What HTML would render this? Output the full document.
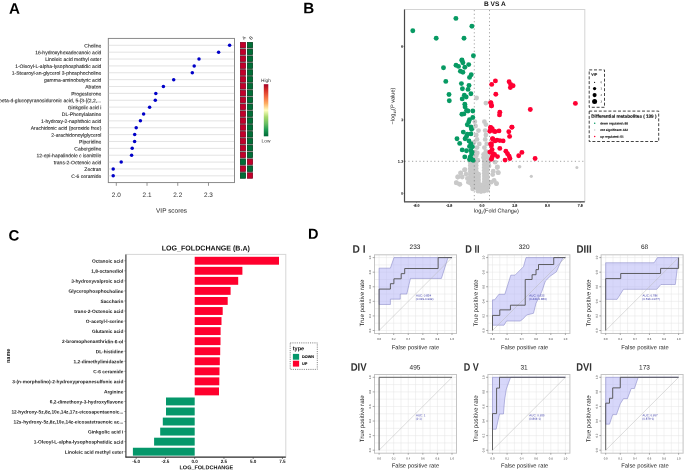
<!DOCTYPE html>
<html><head><meta charset="utf-8"><style>
html,body{margin:0;padding:0;background:#fff;}
body{width:685px;height:472px;overflow:hidden;}
svg{display:block;will-change:transform;text-rendering:geometricPrecision;font-family:"Liberation Sans", sans-serif;}
</style></head><body>
<svg width="685" height="472" viewBox="0 0 685 472">
<rect width="685" height="472" fill="#fff"/>
<text x="8.90" y="13.80" font-size="15.2" text-anchor="start" font-weight="bold" fill="#000"  transform="rotate(0.05 8.90 13.80)">A</text>
<text x="303.30" y="13.30" font-size="15.2" text-anchor="start" font-weight="bold" fill="#000"  transform="rotate(0.05 303.30 13.30)">B</text>
<text x="8.60" y="240.60" font-size="15" text-anchor="start" font-weight="bold" fill="#000"  transform="rotate(0.05 8.60 240.60)">C</text>
<text x="308.00" y="238.70" font-size="14.5" text-anchor="start" font-weight="bold" fill="#000"  transform="rotate(0.05 308.00 238.70)">D</text>
<rect x="108.3" y="38.4" width="126.2" height="144.2" fill="#fff" stroke="#7e7e7e" stroke-width="0.9"/>
<line x1="108.80" y1="45.30" x2="234.00" y2="45.30" stroke="#dcdcdc" stroke-width="0.8" />
<text x="101.30" y="47.40" font-size="5.0" text-anchor="end" font-weight="normal" fill="#222" stroke="#222" stroke-width="0.08" transform="rotate(0.05 101.30 47.40)">Choline</text>
<line x1="108.80" y1="52.17" x2="234.00" y2="52.17" stroke="#dcdcdc" stroke-width="0.8" />
<text x="101.30" y="54.27" font-size="5.0" text-anchor="end" font-weight="normal" fill="#222" stroke="#222" stroke-width="0.08" transform="rotate(0.05 101.30 54.27)">16-hydroxyhexadecanoic acid</text>
<line x1="108.80" y1="59.04" x2="234.00" y2="59.04" stroke="#dcdcdc" stroke-width="0.8" />
<text x="101.30" y="61.14" font-size="5.0" text-anchor="end" font-weight="normal" fill="#222" stroke="#222" stroke-width="0.08" transform="rotate(0.05 101.30 61.14)">Linoleic acid methyl ester</text>
<line x1="108.80" y1="65.91" x2="234.00" y2="65.91" stroke="#dcdcdc" stroke-width="0.8" />
<text x="101.30" y="68.01" font-size="5.0" text-anchor="end" font-weight="normal" fill="#222" stroke="#222" stroke-width="0.08" transform="rotate(0.05 101.30 68.01)">1-Oleoyl-L-alpha-lysophosphatidic acid</text>
<line x1="108.80" y1="72.78" x2="234.00" y2="72.78" stroke="#dcdcdc" stroke-width="0.8" />
<text x="101.30" y="74.88" font-size="5.0" text-anchor="end" font-weight="normal" fill="#222" stroke="#222" stroke-width="0.08" transform="rotate(0.05 101.30 74.88)">1-Stearoyl-sn-glycerol 3-phosphocholine</text>
<line x1="108.80" y1="79.65" x2="234.00" y2="79.65" stroke="#dcdcdc" stroke-width="0.8" />
<text x="101.30" y="81.75" font-size="5.0" text-anchor="end" font-weight="normal" fill="#222" stroke="#222" stroke-width="0.08" transform="rotate(0.05 101.30 81.75)">gamma-aminobutyric acid</text>
<line x1="108.80" y1="86.52" x2="234.00" y2="86.52" stroke="#dcdcdc" stroke-width="0.8" />
<text x="101.30" y="88.62" font-size="5.0" text-anchor="end" font-weight="normal" fill="#222" stroke="#222" stroke-width="0.08" transform="rotate(0.05 101.30 88.62)">Atraton</text>
<line x1="108.80" y1="93.39" x2="234.00" y2="93.39" stroke="#dcdcdc" stroke-width="0.8" />
<text x="101.30" y="95.49" font-size="5.0" text-anchor="end" font-weight="normal" fill="#222" stroke="#222" stroke-width="0.08" transform="rotate(0.05 101.30 95.49)">Progesterone</text>
<line x1="108.80" y1="100.26" x2="234.00" y2="100.26" stroke="#dcdcdc" stroke-width="0.8" />
<text x="101.30" y="102.36" font-size="5.0" text-anchor="end" font-weight="normal" fill="#222" stroke="#222" stroke-width="0.08" transform="rotate(0.05 101.30 102.36)">beta-d-glucopyranosiduronic acid, 5-[3-[(2,2,...</text>
<line x1="108.80" y1="107.13" x2="234.00" y2="107.13" stroke="#dcdcdc" stroke-width="0.8" />
<text x="101.30" y="109.23" font-size="5.0" text-anchor="end" font-weight="normal" fill="#222" stroke="#222" stroke-width="0.08" transform="rotate(0.05 101.30 109.23)">Ginkgolic acid i</text>
<line x1="108.80" y1="114.00" x2="234.00" y2="114.00" stroke="#dcdcdc" stroke-width="0.8" />
<text x="101.30" y="116.10" font-size="5.0" text-anchor="end" font-weight="normal" fill="#222" stroke="#222" stroke-width="0.08" transform="rotate(0.05 101.30 116.10)">DL-Phenylalanine</text>
<line x1="108.80" y1="120.87" x2="234.00" y2="120.87" stroke="#dcdcdc" stroke-width="0.8" />
<text x="101.30" y="122.97" font-size="5.0" text-anchor="end" font-weight="normal" fill="#222" stroke="#222" stroke-width="0.08" transform="rotate(0.05 101.30 122.97)">1-hydroxy-2-naphthoic acid</text>
<line x1="108.80" y1="127.74" x2="234.00" y2="127.74" stroke="#dcdcdc" stroke-width="0.8" />
<text x="101.30" y="129.84" font-size="5.0" text-anchor="end" font-weight="normal" fill="#222" stroke="#222" stroke-width="0.08" transform="rotate(0.05 101.30 129.84)">Arachidonic acid (peroxide free)</text>
<line x1="108.80" y1="134.61" x2="234.00" y2="134.61" stroke="#dcdcdc" stroke-width="0.8" />
<text x="101.30" y="136.71" font-size="5.0" text-anchor="end" font-weight="normal" fill="#222" stroke="#222" stroke-width="0.08" transform="rotate(0.05 101.30 136.71)">2-arachidonoylglycerol</text>
<line x1="108.80" y1="141.48" x2="234.00" y2="141.48" stroke="#dcdcdc" stroke-width="0.8" />
<text x="101.30" y="143.58" font-size="5.0" text-anchor="end" font-weight="normal" fill="#222" stroke="#222" stroke-width="0.08" transform="rotate(0.05 101.30 143.58)">Piperidine</text>
<line x1="108.80" y1="148.35" x2="234.00" y2="148.35" stroke="#dcdcdc" stroke-width="0.8" />
<text x="101.30" y="150.45" font-size="5.0" text-anchor="end" font-weight="normal" fill="#222" stroke="#222" stroke-width="0.08" transform="rotate(0.05 101.30 150.45)">Cabergoline</text>
<line x1="108.80" y1="155.22" x2="234.00" y2="155.22" stroke="#dcdcdc" stroke-width="0.8" />
<text x="101.30" y="157.32" font-size="5.0" text-anchor="end" font-weight="normal" fill="#222" stroke="#222" stroke-width="0.08" transform="rotate(0.05 101.30 157.32)">12-epi-hapalindole c isonitrile</text>
<line x1="108.80" y1="162.09" x2="234.00" y2="162.09" stroke="#dcdcdc" stroke-width="0.8" />
<text x="101.30" y="164.19" font-size="5.0" text-anchor="end" font-weight="normal" fill="#222" stroke="#222" stroke-width="0.08" transform="rotate(0.05 101.30 164.19)">trans-2-Octenoic acid</text>
<line x1="108.80" y1="168.96" x2="234.00" y2="168.96" stroke="#dcdcdc" stroke-width="0.8" />
<text x="101.30" y="171.06" font-size="5.0" text-anchor="end" font-weight="normal" fill="#222" stroke="#222" stroke-width="0.08" transform="rotate(0.05 101.30 171.06)">Zectran</text>
<line x1="108.80" y1="175.83" x2="234.00" y2="175.83" stroke="#dcdcdc" stroke-width="0.8" />
<text x="101.30" y="177.93" font-size="5.0" text-anchor="end" font-weight="normal" fill="#222" stroke="#222" stroke-width="0.08" transform="rotate(0.05 101.30 177.93)">C-6 ceramide</text>
<circle cx="229.60" cy="45.30" r="1.75" fill="#0000c8"/>
<circle cx="218.60" cy="52.17" r="1.75" fill="#0000c8"/>
<circle cx="199.00" cy="59.04" r="1.75" fill="#0000c8"/>
<circle cx="194.20" cy="65.91" r="1.75" fill="#0000c8"/>
<circle cx="192.30" cy="72.78" r="1.75" fill="#0000c8"/>
<circle cx="173.70" cy="79.65" r="1.75" fill="#0000c8"/>
<circle cx="163.40" cy="86.52" r="1.75" fill="#0000c8"/>
<circle cx="155.80" cy="93.39" r="1.75" fill="#0000c8"/>
<circle cx="155.30" cy="100.26" r="1.75" fill="#0000c8"/>
<circle cx="149.60" cy="107.13" r="1.75" fill="#0000c8"/>
<circle cx="143.60" cy="114.00" r="1.75" fill="#0000c8"/>
<circle cx="140.40" cy="120.87" r="1.75" fill="#0000c8"/>
<circle cx="136.20" cy="127.74" r="1.75" fill="#0000c8"/>
<circle cx="134.70" cy="134.61" r="1.75" fill="#0000c8"/>
<circle cx="134.60" cy="141.48" r="1.75" fill="#0000c8"/>
<circle cx="132.20" cy="148.35" r="1.75" fill="#0000c8"/>
<circle cx="131.60" cy="155.22" r="1.75" fill="#0000c8"/>
<circle cx="121.20" cy="162.09" r="1.75" fill="#0000c8"/>
<circle cx="113.20" cy="168.96" r="1.75" fill="#0000c8"/>
<circle cx="113.20" cy="175.83" r="1.75" fill="#0000c8"/>
<line x1="116.30" y1="182.60" x2="116.30" y2="185.80" stroke="#777" stroke-width="0.8" />
<text x="116.30" y="196.90" font-size="6.4" text-anchor="middle" font-weight="normal" fill="#333"  transform="rotate(0.05 116.30 196.90)">2.0</text>
<line x1="147.03" y1="182.60" x2="147.03" y2="185.80" stroke="#777" stroke-width="0.8" />
<text x="147.03" y="196.90" font-size="6.4" text-anchor="middle" font-weight="normal" fill="#333"  transform="rotate(0.05 147.03 196.90)">2.1</text>
<line x1="177.76" y1="182.60" x2="177.76" y2="185.80" stroke="#777" stroke-width="0.8" />
<text x="177.76" y="196.90" font-size="6.4" text-anchor="middle" font-weight="normal" fill="#333"  transform="rotate(0.05 177.76 196.90)">2.2</text>
<line x1="208.49" y1="182.60" x2="208.49" y2="185.80" stroke="#777" stroke-width="0.8" />
<text x="208.49" y="196.90" font-size="6.4" text-anchor="middle" font-weight="normal" fill="#333"  transform="rotate(0.05 208.49 196.90)">2.3</text>
<text x="171.60" y="212.70" font-size="6.45" text-anchor="middle" font-weight="normal" fill="#222"  transform="rotate(0.05 171.60 212.70)">VIP scores</text>
<rect x="240.00" y="42.10" width="5.90" height="136.43" fill="#8e8e8e" />
<rect x="247.05" y="42.10" width="5.90" height="136.43" fill="#8e8e8e" />
<rect x="240.30" y="42.40" width="5.30" height="5.30" fill="#c2002b" stroke="#8c0020" stroke-width="0.6"/>
<rect x="247.35" y="42.40" width="5.30" height="5.30" fill="#006e37" stroke="#00471f" stroke-width="0.6"/>
<rect x="240.30" y="49.27" width="5.30" height="5.30" fill="#c2002b" stroke="#8c0020" stroke-width="0.6"/>
<rect x="247.35" y="49.27" width="5.30" height="5.30" fill="#006e37" stroke="#00471f" stroke-width="0.6"/>
<rect x="240.30" y="56.14" width="5.30" height="5.30" fill="#c2002b" stroke="#8c0020" stroke-width="0.6"/>
<rect x="247.35" y="56.14" width="5.30" height="5.30" fill="#006e37" stroke="#00471f" stroke-width="0.6"/>
<rect x="240.30" y="63.01" width="5.30" height="5.30" fill="#c2002b" stroke="#8c0020" stroke-width="0.6"/>
<rect x="247.35" y="63.01" width="5.30" height="5.30" fill="#006e37" stroke="#00471f" stroke-width="0.6"/>
<rect x="240.30" y="69.88" width="5.30" height="5.30" fill="#c2002b" stroke="#8c0020" stroke-width="0.6"/>
<rect x="247.35" y="69.88" width="5.30" height="5.30" fill="#006e37" stroke="#00471f" stroke-width="0.6"/>
<rect x="240.30" y="76.75" width="5.30" height="5.30" fill="#c2002b" stroke="#8c0020" stroke-width="0.6"/>
<rect x="247.35" y="76.75" width="5.30" height="5.30" fill="#006e37" stroke="#00471f" stroke-width="0.6"/>
<rect x="240.30" y="83.62" width="5.30" height="5.30" fill="#c2002b" stroke="#8c0020" stroke-width="0.6"/>
<rect x="247.35" y="83.62" width="5.30" height="5.30" fill="#006e37" stroke="#00471f" stroke-width="0.6"/>
<rect x="240.30" y="90.49" width="5.30" height="5.30" fill="#c2002b" stroke="#8c0020" stroke-width="0.6"/>
<rect x="247.35" y="90.49" width="5.30" height="5.30" fill="#006e37" stroke="#00471f" stroke-width="0.6"/>
<rect x="240.30" y="97.36" width="5.30" height="5.30" fill="#c2002b" stroke="#8c0020" stroke-width="0.6"/>
<rect x="247.35" y="97.36" width="5.30" height="5.30" fill="#006e37" stroke="#00471f" stroke-width="0.6"/>
<rect x="240.30" y="104.23" width="5.30" height="5.30" fill="#c2002b" stroke="#8c0020" stroke-width="0.6"/>
<rect x="247.35" y="104.23" width="5.30" height="5.30" fill="#006e37" stroke="#00471f" stroke-width="0.6"/>
<rect x="240.30" y="111.10" width="5.30" height="5.30" fill="#c2002b" stroke="#8c0020" stroke-width="0.6"/>
<rect x="247.35" y="111.10" width="5.30" height="5.30" fill="#006e37" stroke="#00471f" stroke-width="0.6"/>
<rect x="240.30" y="117.97" width="5.30" height="5.30" fill="#c2002b" stroke="#8c0020" stroke-width="0.6"/>
<rect x="247.35" y="117.97" width="5.30" height="5.30" fill="#006e37" stroke="#00471f" stroke-width="0.6"/>
<rect x="240.30" y="124.84" width="5.30" height="5.30" fill="#c2002b" stroke="#8c0020" stroke-width="0.6"/>
<rect x="247.35" y="124.84" width="5.30" height="5.30" fill="#006e37" stroke="#00471f" stroke-width="0.6"/>
<rect x="240.30" y="131.71" width="5.30" height="5.30" fill="#c2002b" stroke="#8c0020" stroke-width="0.6"/>
<rect x="247.35" y="131.71" width="5.30" height="5.30" fill="#006e37" stroke="#00471f" stroke-width="0.6"/>
<rect x="240.30" y="138.58" width="5.30" height="5.30" fill="#c2002b" stroke="#8c0020" stroke-width="0.6"/>
<rect x="247.35" y="138.58" width="5.30" height="5.30" fill="#006e37" stroke="#00471f" stroke-width="0.6"/>
<rect x="240.30" y="145.45" width="5.30" height="5.30" fill="#c2002b" stroke="#8c0020" stroke-width="0.6"/>
<rect x="247.35" y="145.45" width="5.30" height="5.30" fill="#006e37" stroke="#00471f" stroke-width="0.6"/>
<rect x="240.30" y="152.32" width="5.30" height="5.30" fill="#c2002b" stroke="#8c0020" stroke-width="0.6"/>
<rect x="247.35" y="152.32" width="5.30" height="5.30" fill="#006e37" stroke="#00471f" stroke-width="0.6"/>
<rect x="240.30" y="159.19" width="5.30" height="5.30" fill="#006e37" stroke="#00471f" stroke-width="0.6"/>
<rect x="247.35" y="159.19" width="5.30" height="5.30" fill="#c2002b" stroke="#8c0020" stroke-width="0.6"/>
<rect x="240.30" y="166.06" width="5.30" height="5.30" fill="#c2002b" stroke="#8c0020" stroke-width="0.6"/>
<rect x="247.35" y="166.06" width="5.30" height="5.30" fill="#006e37" stroke="#00471f" stroke-width="0.6"/>
<rect x="240.30" y="172.93" width="5.30" height="5.30" fill="#006e37" stroke="#00471f" stroke-width="0.6"/>
<rect x="247.35" y="172.93" width="5.30" height="5.30" fill="#c2002b" stroke="#8c0020" stroke-width="0.6"/>
<text x="243.90" y="39.50" font-size="4.8" text-anchor="middle" font-weight="normal" fill="#333" transform="rotate(0.05 243.90 39.50) rotate(-45 243.9 37.8)">A</text>
<text x="250.90" y="39.50" font-size="4.8" text-anchor="middle" font-weight="normal" fill="#333" transform="rotate(0.05 250.90 39.50) rotate(-45 250.9 37.8)">B</text>
<defs><linearGradient id="cb" x1="0" y1="0" x2="0" y2="1"><stop offset="0" stop-color="#a50026"/><stop offset="0.12" stop-color="#d73027"/><stop offset="0.25" stop-color="#f46d43"/><stop offset="0.37" stop-color="#fdae61"/><stop offset="0.5" stop-color="#ffffbf"/><stop offset="0.63" stop-color="#a6d96a"/><stop offset="0.76" stop-color="#66bd63"/><stop offset="0.88" stop-color="#1a9850"/><stop offset="1" stop-color="#006837"/></linearGradient></defs>
<rect x="263.80" y="84.20" width="4.50" height="52.10" fill="url(#cb)" />
<text x="265.90" y="82.10" font-size="4.8" text-anchor="middle" font-weight="normal" fill="#333"  transform="rotate(0.05 265.90 82.10)">High</text>
<text x="266.00" y="142.60" font-size="4.8" text-anchor="middle" font-weight="normal" fill="#333"  transform="rotate(0.05 266.00 142.60)">Low</text>
<rect x="404.6" y="9.5" width="180.19999999999993" height="192.0" fill="#fff" stroke="#d4d4d4" stroke-width="1"/>
<text x="494.80" y="6.10" font-size="6.6" text-anchor="middle" font-weight="bold" fill="#111"  transform="rotate(0.05 494.80 6.10)">B VS A</text>
<circle cx="476.60" cy="98.00" r="2.4" fill="#c9c9c9"/>
<circle cx="485.90" cy="103.10" r="2.4" fill="#c9c9c9"/>
<circle cx="474.80" cy="121.70" r="2.4" fill="#c9c9c9"/>
<circle cx="475.60" cy="126.10" r="2.4" fill="#c9c9c9"/>
<circle cx="478.50" cy="130.60" r="2.4" fill="#c9c9c9"/>
<circle cx="476.30" cy="135.00" r="2.4" fill="#c9c9c9"/>
<circle cx="477.00" cy="139.40" r="2.4" fill="#c9c9c9"/>
<circle cx="474.10" cy="142.40" r="2.4" fill="#c9c9c9"/>
<circle cx="479.30" cy="143.90" r="2.4" fill="#c9c9c9"/>
<circle cx="477.00" cy="147.60" r="2.4" fill="#c9c9c9"/>
<circle cx="474.80" cy="152.00" r="2.4" fill="#c9c9c9"/>
<circle cx="476.30" cy="155.70" r="2.4" fill="#c9c9c9"/>
<circle cx="474.10" cy="158.70" r="2.4" fill="#c9c9c9"/>
<circle cx="477.80" cy="160.20" r="2.4" fill="#c9c9c9"/>
<circle cx="484.40" cy="121.70" r="2.4" fill="#c9c9c9"/>
<circle cx="485.90" cy="124.60" r="2.4" fill="#c9c9c9"/>
<circle cx="485.20" cy="130.60" r="2.4" fill="#c9c9c9"/>
<circle cx="485.90" cy="135.00" r="2.4" fill="#c9c9c9"/>
<circle cx="485.20" cy="139.40" r="2.4" fill="#c9c9c9"/>
<circle cx="486.70" cy="143.90" r="2.4" fill="#c9c9c9"/>
<circle cx="484.40" cy="147.60" r="2.4" fill="#c9c9c9"/>
<circle cx="485.90" cy="151.30" r="2.4" fill="#c9c9c9"/>
<circle cx="483.70" cy="154.30" r="2.4" fill="#c9c9c9"/>
<circle cx="486.70" cy="157.20" r="2.4" fill="#c9c9c9"/>
<circle cx="484.40" cy="160.20" r="2.4" fill="#c9c9c9"/>
<circle cx="464.50" cy="169.80" r="2.4" fill="#c9c9c9"/>
<circle cx="460.70" cy="172.90" r="2.4" fill="#c9c9c9"/>
<circle cx="466.00" cy="174.10" r="2.4" fill="#c9c9c9"/>
<circle cx="457.90" cy="177.00" r="2.4" fill="#c9c9c9"/>
<circle cx="462.20" cy="177.00" r="2.4" fill="#c9c9c9"/>
<circle cx="467.40" cy="178.40" r="2.4" fill="#c9c9c9"/>
<circle cx="456.40" cy="182.70" r="2.4" fill="#c9c9c9"/>
<circle cx="459.30" cy="184.10" r="2.4" fill="#c9c9c9"/>
<circle cx="468.40" cy="182.20" r="2.4" fill="#c9c9c9"/>
<circle cx="472.20" cy="185.50" r="2.4" fill="#c9c9c9"/>
<circle cx="472.70" cy="188.90" r="2.4" fill="#c9c9c9"/>
<circle cx="495.10" cy="162.20" r="2.4" fill="#c9c9c9"/>
<circle cx="497.50" cy="166.90" r="2.4" fill="#c9c9c9"/>
<circle cx="498.40" cy="172.70" r="2.4" fill="#c9c9c9"/>
<circle cx="493.20" cy="171.20" r="2.4" fill="#c9c9c9"/>
<circle cx="492.70" cy="174.60" r="2.4" fill="#c9c9c9"/>
<circle cx="494.10" cy="180.30" r="2.4" fill="#c9c9c9"/>
<circle cx="496.50" cy="183.60" r="2.4" fill="#c9c9c9"/>
<circle cx="491.30" cy="182.20" r="2.4" fill="#c9c9c9"/>
<circle cx="488.40" cy="185.50" r="2.4" fill="#c9c9c9"/>
<circle cx="457.70" cy="177.00" r="2.4" fill="#c9c9c9"/>
<circle cx="456.30" cy="182.80" r="2.4" fill="#c9c9c9"/>
<circle cx="459.90" cy="184.30" r="2.4" fill="#c9c9c9"/>
<circle cx="460.70" cy="173.10" r="2.4" fill="#c9c9c9"/>
<circle cx="465.00" cy="169.70" r="2.4" fill="#c9c9c9"/>
<circle cx="496.40" cy="183.60" r="2.4" fill="#c9c9c9"/>
<circle cx="497.90" cy="172.60" r="2.4" fill="#c9c9c9"/>
<circle cx="497.20" cy="167.50" r="2.4" fill="#c9c9c9"/>
<circle cx="470.30" cy="162.60" r="2.4" fill="#c9c9c9"/>
<circle cx="473.20" cy="162.60" r="2.4" fill="#c9c9c9"/>
<circle cx="476.20" cy="162.60" r="2.4" fill="#c9c9c9"/>
<circle cx="470.30" cy="165.50" r="2.4" fill="#c9c9c9"/>
<circle cx="473.20" cy="165.50" r="2.4" fill="#c9c9c9"/>
<circle cx="476.20" cy="165.50" r="2.4" fill="#c9c9c9"/>
<circle cx="470.30" cy="168.40" r="2.4" fill="#c9c9c9"/>
<circle cx="473.20" cy="168.40" r="2.4" fill="#c9c9c9"/>
<circle cx="476.20" cy="168.40" r="2.4" fill="#c9c9c9"/>
<circle cx="470.30" cy="171.30" r="2.4" fill="#c9c9c9"/>
<circle cx="473.20" cy="171.30" r="2.4" fill="#c9c9c9"/>
<circle cx="476.20" cy="171.30" r="2.4" fill="#c9c9c9"/>
<circle cx="470.30" cy="174.20" r="2.4" fill="#c9c9c9"/>
<circle cx="473.20" cy="174.20" r="2.4" fill="#c9c9c9"/>
<circle cx="476.20" cy="174.20" r="2.4" fill="#c9c9c9"/>
<circle cx="478.60" cy="174.20" r="2.4" fill="#c9c9c9"/>
<circle cx="470.30" cy="177.10" r="2.4" fill="#c9c9c9"/>
<circle cx="473.20" cy="177.10" r="2.4" fill="#c9c9c9"/>
<circle cx="476.20" cy="177.10" r="2.4" fill="#c9c9c9"/>
<circle cx="478.60" cy="177.10" r="2.4" fill="#c9c9c9"/>
<circle cx="470.30" cy="180.00" r="2.4" fill="#c9c9c9"/>
<circle cx="473.20" cy="180.00" r="2.4" fill="#c9c9c9"/>
<circle cx="476.20" cy="180.00" r="2.4" fill="#c9c9c9"/>
<circle cx="478.60" cy="180.00" r="2.4" fill="#c9c9c9"/>
<circle cx="470.30" cy="182.90" r="2.4" fill="#c9c9c9"/>
<circle cx="473.20" cy="182.90" r="2.4" fill="#c9c9c9"/>
<circle cx="476.20" cy="182.90" r="2.4" fill="#c9c9c9"/>
<circle cx="478.60" cy="182.90" r="2.4" fill="#c9c9c9"/>
<circle cx="484.30" cy="161.80" r="2.4" fill="#c9c9c9"/>
<circle cx="487.20" cy="161.80" r="2.4" fill="#c9c9c9"/>
<circle cx="484.30" cy="164.65" r="2.4" fill="#c9c9c9"/>
<circle cx="487.20" cy="164.65" r="2.4" fill="#c9c9c9"/>
<circle cx="484.30" cy="167.50" r="2.4" fill="#c9c9c9"/>
<circle cx="487.20" cy="167.50" r="2.4" fill="#c9c9c9"/>
<circle cx="484.30" cy="170.35" r="2.4" fill="#c9c9c9"/>
<circle cx="487.20" cy="170.35" r="2.4" fill="#c9c9c9"/>
<circle cx="484.30" cy="173.20" r="2.4" fill="#c9c9c9"/>
<circle cx="487.20" cy="173.20" r="2.4" fill="#c9c9c9"/>
<circle cx="484.30" cy="176.05" r="2.4" fill="#c9c9c9"/>
<circle cx="487.20" cy="176.05" r="2.4" fill="#c9c9c9"/>
<circle cx="484.30" cy="178.90" r="2.4" fill="#c9c9c9"/>
<circle cx="487.20" cy="178.90" r="2.4" fill="#c9c9c9"/>
<circle cx="484.30" cy="181.75" r="2.4" fill="#c9c9c9"/>
<circle cx="487.20" cy="181.75" r="2.4" fill="#c9c9c9"/>
<circle cx="484.30" cy="184.60" r="2.4" fill="#c9c9c9"/>
<circle cx="487.20" cy="184.60" r="2.4" fill="#c9c9c9"/>
<circle cx="484.30" cy="187.45" r="2.4" fill="#c9c9c9"/>
<circle cx="487.20" cy="187.45" r="2.4" fill="#c9c9c9"/>
<circle cx="484.30" cy="190.30" r="2.4" fill="#c9c9c9"/>
<circle cx="487.20" cy="190.30" r="2.4" fill="#c9c9c9"/>
<circle cx="474.00" cy="185.00" r="2.4" fill="#c9c9c9"/>
<circle cx="477.00" cy="185.00" r="2.4" fill="#c9c9c9"/>
<circle cx="480.00" cy="185.50" r="2.4" fill="#c9c9c9"/>
<circle cx="482.00" cy="185.00" r="2.4" fill="#c9c9c9"/>
<circle cx="473.50" cy="188.00" r="2.4" fill="#c9c9c9"/>
<circle cx="476.50" cy="188.30" r="2.4" fill="#c9c9c9"/>
<circle cx="479.50" cy="188.80" r="2.4" fill="#c9c9c9"/>
<circle cx="482.50" cy="188.50" r="2.4" fill="#c9c9c9"/>
<circle cx="485.50" cy="188.30" r="2.4" fill="#c9c9c9"/>
<circle cx="478.00" cy="191.20" r="2.4" fill="#c9c9c9"/>
<circle cx="481.00" cy="191.50" r="2.4" fill="#c9c9c9"/>
<circle cx="484.00" cy="191.00" r="2.4" fill="#c9c9c9"/>
<circle cx="488.50" cy="162.50" r="2.4" fill="#c9c9c9"/>
<circle cx="489.00" cy="166.00" r="2.4" fill="#c9c9c9"/>
<circle cx="471.50" cy="159.50" r="2.4" fill="#c9c9c9"/>
<circle cx="475.00" cy="157.60" r="2.4" fill="#c9c9c9"/>
<circle cx="477.30" cy="153.00" r="2.4" fill="#c9c9c9"/>
<circle cx="486.50" cy="155.00" r="2.4" fill="#c9c9c9"/>
<circle cx="489.20" cy="158.70" r="2.4" fill="#c9c9c9"/>
<circle cx="483.50" cy="157.50" r="2.4" fill="#c9c9c9"/>
<circle cx="519.60" cy="166.80" r="1.8" fill="#c9c9c9"/>
<circle cx="576.90" cy="167.60" r="1.5" fill="#c9c9c9"/>
<circle cx="531.30" cy="176.30" r="1.6" fill="#c9c9c9"/>
<line x1="474.30" y1="10.00" x2="474.30" y2="201.50" stroke="#666" stroke-width="0.6" stroke-dasharray="1.2 2.5"/>
<line x1="489.50" y1="10.00" x2="489.50" y2="201.50" stroke="#666" stroke-width="0.6" stroke-dasharray="1.2 2.5"/>
<line x1="404.60" y1="161.30" x2="584.80" y2="161.30" stroke="#666" stroke-width="0.6" stroke-dasharray="1.2 2.5"/>
<circle cx="455.90" cy="18.40" r="2.45" fill="#079a63"/>
<circle cx="471.90" cy="26.30" r="2.45" fill="#079a63"/>
<circle cx="412.80" cy="30.70" r="2.45" fill="#079a63"/>
<circle cx="436.20" cy="38.20" r="2.45" fill="#079a63"/>
<circle cx="464.00" cy="38.20" r="2.45" fill="#079a63"/>
<circle cx="473.40" cy="55.80" r="2.45" fill="#079a63"/>
<circle cx="461.90" cy="59.90" r="2.45" fill="#079a63"/>
<circle cx="461.90" cy="60.50" r="2.45" fill="#079a63"/>
<circle cx="462.90" cy="62.80" r="2.45" fill="#079a63"/>
<circle cx="468.70" cy="64.60" r="2.45" fill="#079a63"/>
<circle cx="456.00" cy="65.30" r="2.45" fill="#079a63"/>
<circle cx="458.50" cy="66.40" r="2.45" fill="#079a63"/>
<circle cx="464.80" cy="67.20" r="2.45" fill="#079a63"/>
<circle cx="443.50" cy="67.80" r="2.45" fill="#079a63"/>
<circle cx="460.40" cy="71.20" r="2.45" fill="#079a63"/>
<circle cx="462.90" cy="72.20" r="2.45" fill="#079a63"/>
<circle cx="471.20" cy="74.80" r="2.45" fill="#079a63"/>
<circle cx="469.50" cy="77.40" r="2.45" fill="#079a63"/>
<circle cx="445.80" cy="81.40" r="2.45" fill="#079a63"/>
<circle cx="461.40" cy="83.60" r="2.45" fill="#079a63"/>
<circle cx="469.00" cy="85.50" r="2.45" fill="#079a63"/>
<circle cx="462.40" cy="88.70" r="2.45" fill="#079a63"/>
<circle cx="468.00" cy="89.40" r="2.45" fill="#079a63"/>
<circle cx="470.90" cy="93.80" r="2.45" fill="#079a63"/>
<circle cx="449.00" cy="94.50" r="2.45" fill="#079a63"/>
<circle cx="464.30" cy="95.30" r="2.45" fill="#079a63"/>
<circle cx="466.20" cy="97.00" r="2.45" fill="#079a63"/>
<circle cx="462.20" cy="98.90" r="2.45" fill="#079a63"/>
<circle cx="449.30" cy="100.80" r="2.45" fill="#079a63"/>
<circle cx="464.80" cy="104.30" r="2.45" fill="#079a63"/>
<circle cx="465.10" cy="106.90" r="2.45" fill="#079a63"/>
<circle cx="466.50" cy="110.50" r="2.45" fill="#079a63"/>
<circle cx="468.00" cy="111.00" r="2.45" fill="#079a63"/>
<circle cx="472.80" cy="111.00" r="2.45" fill="#079a63"/>
<circle cx="461.90" cy="114.30" r="2.45" fill="#079a63"/>
<circle cx="463.90" cy="113.90" r="2.45" fill="#079a63"/>
<circle cx="472.80" cy="117.50" r="2.45" fill="#079a63"/>
<circle cx="469.50" cy="119.70" r="2.45" fill="#079a63"/>
<circle cx="468.70" cy="121.90" r="2.45" fill="#079a63"/>
<circle cx="467.30" cy="124.80" r="2.45" fill="#079a63"/>
<circle cx="470.90" cy="127.00" r="2.45" fill="#079a63"/>
<circle cx="471.60" cy="129.20" r="2.45" fill="#079a63"/>
<circle cx="463.30" cy="132.10" r="2.45" fill="#079a63"/>
<circle cx="467.30" cy="134.30" r="2.45" fill="#079a63"/>
<circle cx="470.90" cy="133.90" r="2.45" fill="#079a63"/>
<circle cx="457.00" cy="138.70" r="2.45" fill="#079a63"/>
<circle cx="465.10" cy="138.70" r="2.45" fill="#079a63"/>
<circle cx="466.50" cy="136.50" r="2.45" fill="#079a63"/>
<circle cx="459.70" cy="143.40" r="2.45" fill="#079a63"/>
<circle cx="470.90" cy="143.80" r="2.45" fill="#079a63"/>
<circle cx="469.50" cy="146.40" r="2.45" fill="#079a63"/>
<circle cx="472.40" cy="146.70" r="2.45" fill="#079a63"/>
<circle cx="462.20" cy="149.90" r="2.45" fill="#079a63"/>
<circle cx="466.50" cy="150.80" r="2.45" fill="#079a63"/>
<circle cx="470.90" cy="150.40" r="2.45" fill="#079a63"/>
<circle cx="471.60" cy="154.00" r="2.45" fill="#079a63"/>
<circle cx="464.80" cy="156.90" r="2.45" fill="#079a63"/>
<circle cx="470.20" cy="156.90" r="2.45" fill="#079a63"/>
<circle cx="471.00" cy="158.50" r="2.45" fill="#079a63"/>
<circle cx="473.00" cy="160.20" r="2.45" fill="#079a63"/>
<circle cx="469.50" cy="159.50" r="2.45" fill="#079a63"/>
<circle cx="472.00" cy="152.50" r="2.45" fill="#079a63"/>
<circle cx="469.00" cy="141.00" r="2.45" fill="#079a63"/>
<circle cx="495.40" cy="80.90" r="2.45" fill="#ff0033"/>
<circle cx="491.70" cy="84.40" r="2.45" fill="#ff0033"/>
<circle cx="509.10" cy="81.70" r="2.45" fill="#ff0033"/>
<circle cx="510.70" cy="84.40" r="2.45" fill="#ff0033"/>
<circle cx="513.10" cy="85.70" r="2.45" fill="#ff0033"/>
<circle cx="510.40" cy="87.60" r="2.45" fill="#ff0033"/>
<circle cx="495.80" cy="94.20" r="2.45" fill="#ff0033"/>
<circle cx="490.60" cy="102.60" r="2.45" fill="#ff0033"/>
<circle cx="491.40" cy="105.80" r="2.45" fill="#ff0033"/>
<circle cx="575.40" cy="103.40" r="2.45" fill="#ff0033"/>
<circle cx="530.30" cy="109.50" r="2.45" fill="#ff0033"/>
<circle cx="499.80" cy="112.20" r="2.45" fill="#ff0033"/>
<circle cx="499.50" cy="114.90" r="2.45" fill="#ff0033"/>
<circle cx="511.80" cy="127.10" r="2.45" fill="#ff0033"/>
<circle cx="490.60" cy="127.40" r="2.45" fill="#ff0033"/>
<circle cx="491.00" cy="102.90" r="2.45" fill="#ff0033"/>
<circle cx="491.60" cy="105.80" r="2.45" fill="#ff0033"/>
<circle cx="490.60" cy="127.70" r="2.45" fill="#ff0033"/>
<circle cx="492.00" cy="129.90" r="2.45" fill="#ff0033"/>
<circle cx="494.30" cy="131.40" r="2.45" fill="#ff0033"/>
<circle cx="492.50" cy="138.70" r="2.45" fill="#ff0033"/>
<circle cx="491.40" cy="143.80" r="2.45" fill="#ff0033"/>
<circle cx="492.10" cy="149.60" r="2.45" fill="#ff0033"/>
<circle cx="492.80" cy="154.00" r="2.45" fill="#ff0033"/>
<circle cx="512.00" cy="127.20" r="2.45" fill="#ff0033"/>
<circle cx="492.20" cy="128.80" r="2.45" fill="#ff0033"/>
<circle cx="489.80" cy="131.20" r="2.45" fill="#ff0033"/>
<circle cx="495.40" cy="131.60" r="2.45" fill="#ff0033"/>
<circle cx="499.00" cy="130.90" r="2.45" fill="#ff0033"/>
<circle cx="508.80" cy="131.70" r="2.45" fill="#ff0033"/>
<circle cx="509.60" cy="136.40" r="2.45" fill="#ff0033"/>
<circle cx="492.70" cy="139.00" r="2.45" fill="#ff0033"/>
<circle cx="495.00" cy="140.90" r="2.45" fill="#ff0033"/>
<circle cx="497.00" cy="140.10" r="2.45" fill="#ff0033"/>
<circle cx="499.80" cy="140.60" r="2.45" fill="#ff0033"/>
<circle cx="503.10" cy="140.90" r="2.45" fill="#ff0033"/>
<circle cx="490.60" cy="144.10" r="2.45" fill="#ff0033"/>
<circle cx="491.40" cy="145.70" r="2.45" fill="#ff0033"/>
<circle cx="499.80" cy="148.40" r="2.45" fill="#ff0033"/>
<circle cx="505.90" cy="151.30" r="2.45" fill="#ff0033"/>
<circle cx="521.90" cy="152.40" r="2.45" fill="#ff0033"/>
<circle cx="518.70" cy="155.70" r="2.45" fill="#ff0033"/>
<circle cx="507.50" cy="153.70" r="2.45" fill="#ff0033"/>
<circle cx="509.10" cy="156.10" r="2.45" fill="#ff0033"/>
<circle cx="509.90" cy="158.50" r="2.45" fill="#ff0033"/>
<circle cx="505.10" cy="160.10" r="2.45" fill="#ff0033"/>
<circle cx="535.10" cy="158.50" r="2.45" fill="#ff0033"/>
<circle cx="493.00" cy="153.70" r="2.45" fill="#ff0033"/>
<circle cx="494.60" cy="154.50" r="2.45" fill="#ff0033"/>
<circle cx="497.50" cy="156.60" r="2.45" fill="#ff0033"/>
<circle cx="492.20" cy="156.90" r="2.45" fill="#ff0033"/>
<circle cx="491.40" cy="159.30" r="2.45" fill="#ff0033"/>
<circle cx="489.80" cy="152.10" r="2.45" fill="#ff0033"/>
<line x1="404.50" y1="9.50" x2="404.50" y2="201.80" stroke="#4a4a4a" stroke-width="1.2" />
<line x1="404.00" y1="201.80" x2="584.80" y2="201.80" stroke="#4a4a4a" stroke-width="1.3" />
<line x1="403.40" y1="193.40" x2="404.60" y2="193.40" stroke="#333" stroke-width="0.5" />
<text x="403.10" y="194.80" font-size="3.9" text-anchor="end" font-weight="bold" fill="#222"  transform="rotate(0.05 403.10 194.80)">0</text>
<line x1="403.40" y1="119.90" x2="404.60" y2="119.90" stroke="#333" stroke-width="0.5" />
<text x="403.10" y="121.30" font-size="3.9" text-anchor="end" font-weight="bold" fill="#222"  transform="rotate(0.05 403.10 121.30)">3</text>
<line x1="403.40" y1="46.40" x2="404.60" y2="46.40" stroke="#333" stroke-width="0.5" />
<text x="403.10" y="47.80" font-size="3.9" text-anchor="end" font-weight="bold" fill="#222"  transform="rotate(0.05 403.10 47.80)">6</text>
<line x1="403.40" y1="161.30" x2="404.60" y2="161.30" stroke="#333" stroke-width="0.5" />
<text x="403.10" y="162.70" font-size="3.9" text-anchor="end" font-weight="bold" fill="#222"  transform="rotate(0.05 403.10 162.70)">1.3</text>
<line x1="416.50" y1="202.40" x2="416.50" y2="203.10" stroke="#444" stroke-width="0.6" />
<text x="416.50" y="206.70" font-size="3.6" text-anchor="middle" font-weight="bold" fill="#111" stroke="#111" stroke-width="0.1" transform="rotate(0.05 416.50 206.70)">-5.0</text>
<line x1="449.25" y1="202.40" x2="449.25" y2="203.10" stroke="#444" stroke-width="0.6" />
<text x="449.25" y="206.70" font-size="3.6" text-anchor="middle" font-weight="bold" fill="#111" stroke="#111" stroke-width="0.1" transform="rotate(0.05 449.25 206.70)">-2.5</text>
<line x1="482.00" y1="202.40" x2="482.00" y2="203.10" stroke="#444" stroke-width="0.6" />
<text x="482.00" y="206.70" font-size="3.6" text-anchor="middle" font-weight="bold" fill="#111" stroke="#111" stroke-width="0.1" transform="rotate(0.05 482.00 206.70)">0.0</text>
<line x1="514.75" y1="202.40" x2="514.75" y2="203.10" stroke="#444" stroke-width="0.6" />
<text x="514.75" y="206.70" font-size="3.6" text-anchor="middle" font-weight="bold" fill="#111" stroke="#111" stroke-width="0.1" transform="rotate(0.05 514.75 206.70)">2.5</text>
<line x1="547.50" y1="202.40" x2="547.50" y2="203.10" stroke="#444" stroke-width="0.6" />
<text x="547.50" y="206.70" font-size="3.6" text-anchor="middle" font-weight="bold" fill="#111" stroke="#111" stroke-width="0.1" transform="rotate(0.05 547.50 206.70)">5.0</text>
<line x1="580.25" y1="202.40" x2="580.25" y2="203.10" stroke="#444" stroke-width="0.6" />
<text x="580.25" y="206.70" font-size="3.6" text-anchor="middle" font-weight="bold" fill="#111" stroke="#111" stroke-width="0.1" transform="rotate(0.05 580.25 206.70)">7.5</text>
<text x="473.8" y="212.6" font-size="5.6" fill="#222" transform="rotate(0.05 473.8 212.6)">log<tspan font-size="3.4" dy="1.3">2</tspan><tspan dy="-1.3">(Fold Change)</tspan></text>
<text x="394.6" y="106" font-size="5.6" fill="#222" text-anchor="middle" transform="rotate(-89.95 394.6 106)">−log<tspan font-size="3.4" dy="1.3">10</tspan><tspan dy="-1.3">(P value)</tspan></text>
<rect x="589.2" y="69.9" width="15.3" height="37.4" fill="#fff" stroke="#222" stroke-width="0.85" stroke-dasharray="3 1.8"/>
<text x="591.20" y="75.80" font-size="3.7" text-anchor="start" font-weight="bold" fill="#111" stroke="#111" stroke-width="0.12" transform="rotate(0.05 591.20 75.80)">VIP</text>
<circle cx="594.60" cy="82.30" r="0.6" fill="#000"/>
<text x="600.60" y="83.30" font-size="2.9" text-anchor="start" font-weight="bold" fill="#555"  transform="rotate(0.05 600.60 83.30)">0</text>
<circle cx="594.60" cy="88.60" r="1.65" fill="#000"/>
<text x="600.60" y="89.60" font-size="2.9" text-anchor="start" font-weight="bold" fill="#555"  transform="rotate(0.05 600.60 89.60)">1</text>
<circle cx="594.60" cy="95.10" r="2.05" fill="#000"/>
<text x="600.60" y="96.10" font-size="2.9" text-anchor="start" font-weight="bold" fill="#555"  transform="rotate(0.05 600.60 96.10)">2</text>
<circle cx="594.60" cy="101.60" r="2.5" fill="#000"/>
<text x="600.60" y="102.60" font-size="2.9" text-anchor="start" font-weight="bold" fill="#555"  transform="rotate(0.05 600.60 102.60)">3</text>
<rect x="589.2" y="111.1" width="69.5" height="30.4" fill="#fff" stroke="#222" stroke-width="0.85" stroke-dasharray="3 1.8"/>
<text x="591.30" y="117.70" font-size="4.58" text-anchor="start" font-weight="bold" fill="#111" stroke="#111" stroke-width="0.12" transform="rotate(0.05 591.30 117.70)">Differential metabolites ( 139 )</text>
<circle cx="594.70" cy="123.30" r="0.75" fill="#079a63"/>
<text x="600.20" y="124.40" font-size="3.05" text-anchor="start" font-weight="bold" fill="#111" stroke="#111" stroke-width="0.1" transform="rotate(0.05 600.20 124.40)">down regulated: 88</text>
<circle cx="594.70" cy="130.00" r="0.75" fill="#c9c9c9"/>
<text x="600.20" y="131.10" font-size="3.05" text-anchor="start" font-weight="bold" fill="#111" stroke="#111" stroke-width="0.1" transform="rotate(0.05 600.20 131.10)">not significant: 442</text>
<circle cx="594.70" cy="136.60" r="0.75" fill="#ff0033"/>
<text x="600.20" y="137.70" font-size="3.05" text-anchor="start" font-weight="bold" fill="#111" stroke="#111" stroke-width="0.1" transform="rotate(0.05 600.20 137.70)">up regulated: 51</text>
<rect x="125.9" y="254.4" width="159.9" height="202.79999999999998" fill="#fff" stroke="#d6d6d6" stroke-width="1"/>
<text x="205.80" y="250.60" font-size="7.1" text-anchor="middle" font-weight="bold" fill="#111"  transform="rotate(0.05 205.80 250.60)">LOG_FOLDCHANGE (B.A)</text>
<rect x="194.70" y="256.80" width="84.30" height="7.90" fill="#ff002d" />
<line x1="124.30" y1="260.75" x2="125.90" y2="260.75" stroke="#444" stroke-width="0.5" />
<text x="123.40" y="262.75" font-size="4.8" text-anchor="end" font-weight="bold" fill="#222"  transform="rotate(0.05 123.40 262.75)">Octanoic acid</text>
<rect x="194.70" y="266.85" width="47.70" height="7.90" fill="#ff002d" />
<line x1="124.30" y1="270.80" x2="125.90" y2="270.80" stroke="#444" stroke-width="0.5" />
<text x="123.40" y="272.80" font-size="4.8" text-anchor="end" font-weight="bold" fill="#222"  transform="rotate(0.05 123.40 272.80)">1,8-octanediol</text>
<rect x="194.70" y="276.90" width="43.50" height="7.90" fill="#ff002d" />
<line x1="124.30" y1="280.85" x2="125.90" y2="280.85" stroke="#444" stroke-width="0.5" />
<text x="123.40" y="282.85" font-size="4.8" text-anchor="end" font-weight="bold" fill="#222"  transform="rotate(0.05 123.40 282.85)">3-hydroxyvalproic acid</text>
<rect x="194.70" y="286.95" width="35.90" height="7.90" fill="#ff002d" />
<line x1="124.30" y1="290.90" x2="125.90" y2="290.90" stroke="#444" stroke-width="0.5" />
<text x="123.40" y="292.90" font-size="4.8" text-anchor="end" font-weight="bold" fill="#222"  transform="rotate(0.05 123.40 292.90)">Glycerophosphocholine</text>
<rect x="194.70" y="297.00" width="33.00" height="7.90" fill="#ff002d" />
<line x1="124.30" y1="300.95" x2="125.90" y2="300.95" stroke="#444" stroke-width="0.5" />
<text x="123.40" y="302.95" font-size="4.8" text-anchor="end" font-weight="bold" fill="#222"  transform="rotate(0.05 123.40 302.95)">Saccharin</text>
<rect x="194.70" y="307.05" width="28.00" height="7.90" fill="#ff002d" />
<line x1="124.30" y1="311.00" x2="125.90" y2="311.00" stroke="#444" stroke-width="0.5" />
<text x="123.40" y="313.00" font-size="4.8" text-anchor="end" font-weight="bold" fill="#222"  transform="rotate(0.05 123.40 313.00)">trans-2-Octenoic acid</text>
<rect x="194.70" y="317.10" width="26.80" height="7.90" fill="#ff002d" />
<line x1="124.30" y1="321.05" x2="125.90" y2="321.05" stroke="#444" stroke-width="0.5" />
<text x="123.40" y="323.05" font-size="4.8" text-anchor="end" font-weight="bold" fill="#222"  transform="rotate(0.05 123.40 323.05)">O-acetyl-l-serine</text>
<rect x="194.70" y="327.15" width="25.90" height="7.90" fill="#ff002d" />
<line x1="124.30" y1="331.10" x2="125.90" y2="331.10" stroke="#444" stroke-width="0.5" />
<text x="123.40" y="333.10" font-size="4.8" text-anchor="end" font-weight="bold" fill="#222"  transform="rotate(0.05 123.40 333.10)">Glutamic acid</text>
<rect x="194.70" y="337.20" width="25.80" height="7.90" fill="#ff002d" />
<line x1="124.30" y1="341.15" x2="125.90" y2="341.15" stroke="#444" stroke-width="0.5" />
<text x="123.40" y="343.15" font-size="4.8" text-anchor="end" font-weight="bold" fill="#222"  transform="rotate(0.05 123.40 343.15)">2-bromophenanthridin-6-ol</text>
<rect x="194.70" y="347.25" width="25.50" height="7.90" fill="#ff002d" />
<line x1="124.30" y1="351.20" x2="125.90" y2="351.20" stroke="#444" stroke-width="0.5" />
<text x="123.40" y="353.20" font-size="4.8" text-anchor="end" font-weight="bold" fill="#222"  transform="rotate(0.05 123.40 353.20)">DL-histidine</text>
<rect x="194.70" y="357.30" width="25.10" height="7.90" fill="#ff002d" />
<line x1="124.30" y1="361.25" x2="125.90" y2="361.25" stroke="#444" stroke-width="0.5" />
<text x="123.40" y="363.25" font-size="4.8" text-anchor="end" font-weight="bold" fill="#222"  transform="rotate(0.05 123.40 363.25)">1,2-dimethylimidazole</text>
<rect x="194.70" y="367.35" width="24.80" height="7.90" fill="#ff002d" />
<line x1="124.30" y1="371.30" x2="125.90" y2="371.30" stroke="#444" stroke-width="0.5" />
<text x="123.40" y="373.30" font-size="4.8" text-anchor="end" font-weight="bold" fill="#222"  transform="rotate(0.05 123.40 373.30)">C-6 ceramide</text>
<rect x="194.70" y="377.40" width="24.60" height="7.90" fill="#ff002d" />
<line x1="124.30" y1="381.35" x2="125.90" y2="381.35" stroke="#444" stroke-width="0.5" />
<text x="123.40" y="383.35" font-size="4.8" text-anchor="end" font-weight="bold" fill="#222"  transform="rotate(0.05 123.40 383.35)">3-(n-morpholino)-2-hydroxypropanesulfonic acid</text>
<rect x="194.70" y="387.45" width="24.30" height="7.90" fill="#ff002d" />
<line x1="124.30" y1="391.40" x2="125.90" y2="391.40" stroke="#444" stroke-width="0.5" />
<text x="123.40" y="393.40" font-size="4.8" text-anchor="end" font-weight="bold" fill="#222"  transform="rotate(0.05 123.40 393.40)">Arginine</text>
<rect x="166.00" y="397.50" width="28.70" height="7.90" fill="#05976a" />
<line x1="124.30" y1="401.45" x2="125.90" y2="401.45" stroke="#444" stroke-width="0.5" />
<text x="123.40" y="403.45" font-size="4.8" text-anchor="end" font-weight="bold" fill="#222"  transform="rotate(0.05 123.40 403.45)">6,2-dimethoxy-3-hydroxyflavone</text>
<rect x="166.00" y="407.55" width="28.70" height="7.90" fill="#05976a" />
<line x1="124.30" y1="411.50" x2="125.90" y2="411.50" stroke="#444" stroke-width="0.5" />
<text x="123.40" y="413.50" font-size="4.8" text-anchor="end" font-weight="bold" fill="#222"  transform="rotate(0.05 123.40 413.50)">12-hydroxy-5z,8z,10e,14z,17z-eicosapentaenoic...</text>
<rect x="162.80" y="417.60" width="31.90" height="7.90" fill="#05976a" />
<line x1="124.30" y1="421.55" x2="125.90" y2="421.55" stroke="#444" stroke-width="0.5" />
<text x="123.40" y="423.55" font-size="4.8" text-anchor="end" font-weight="bold" fill="#222"  transform="rotate(0.05 123.40 423.55)">12s-hydroxy-5z,8z,10e,14z-eicosatetraenoic ac...</text>
<rect x="160.20" y="427.65" width="34.50" height="7.90" fill="#05976a" />
<line x1="124.30" y1="431.60" x2="125.90" y2="431.60" stroke="#444" stroke-width="0.5" />
<text x="123.40" y="433.60" font-size="4.8" text-anchor="end" font-weight="bold" fill="#222"  transform="rotate(0.05 123.40 433.60)">Ginkgolic acid i</text>
<rect x="154.10" y="437.70" width="40.60" height="7.90" fill="#05976a" />
<line x1="124.30" y1="441.65" x2="125.90" y2="441.65" stroke="#444" stroke-width="0.5" />
<text x="123.40" y="443.65" font-size="4.8" text-anchor="end" font-weight="bold" fill="#222"  transform="rotate(0.05 123.40 443.65)">1-Oleoyl-L-alpha-lysophosphatidic acid</text>
<rect x="132.90" y="447.75" width="61.80" height="7.90" fill="#05976a" />
<line x1="124.30" y1="451.70" x2="125.90" y2="451.70" stroke="#444" stroke-width="0.5" />
<text x="123.40" y="453.70" font-size="4.8" text-anchor="end" font-weight="bold" fill="#222"  transform="rotate(0.05 123.40 453.70)">Linoleic acid methyl ester</text>
<line x1="125.90" y1="254.40" x2="125.90" y2="457.20" stroke="#3a3a3a" stroke-width="1.05" />
<line x1="125.40" y1="457.20" x2="285.80" y2="457.20" stroke="#333" stroke-width="1.2" />
<line x1="136.20" y1="457.20" x2="136.20" y2="459.00" stroke="#333" stroke-width="0.6" />
<text x="136.20" y="462.90" font-size="4.6" text-anchor="middle" font-weight="bold" fill="#222"  transform="rotate(0.05 136.20 462.90)">-5.0</text>
<line x1="165.45" y1="457.20" x2="165.45" y2="459.00" stroke="#333" stroke-width="0.6" />
<text x="165.45" y="462.90" font-size="4.6" text-anchor="middle" font-weight="bold" fill="#222"  transform="rotate(0.05 165.45 462.90)">-2.5</text>
<line x1="194.70" y1="457.20" x2="194.70" y2="459.00" stroke="#333" stroke-width="0.6" />
<text x="194.70" y="462.90" font-size="4.6" text-anchor="middle" font-weight="bold" fill="#222"  transform="rotate(0.05 194.70 462.90)">0.0</text>
<line x1="223.95" y1="457.20" x2="223.95" y2="459.00" stroke="#333" stroke-width="0.6" />
<text x="223.95" y="462.90" font-size="4.6" text-anchor="middle" font-weight="bold" fill="#222"  transform="rotate(0.05 223.95 462.90)">2.5</text>
<line x1="253.20" y1="457.20" x2="253.20" y2="459.00" stroke="#333" stroke-width="0.6" />
<text x="253.20" y="462.90" font-size="4.6" text-anchor="middle" font-weight="bold" fill="#222"  transform="rotate(0.05 253.20 462.90)">5.0</text>
<line x1="282.45" y1="457.20" x2="282.45" y2="459.00" stroke="#333" stroke-width="0.6" />
<text x="282.45" y="462.90" font-size="4.6" text-anchor="middle" font-weight="bold" fill="#222"  transform="rotate(0.05 282.45 462.90)">7.5</text>
<text x="206.40" y="469.20" font-size="5.5" text-anchor="middle" font-weight="bold" fill="#111"  transform="rotate(0.05 206.40 469.20)">LOG_FOLDCHANGE</text>
<text x="10.0" y="355.8" font-size="5.5" font-weight="bold" fill="#111" text-anchor="middle" transform="rotate(-89.95 10.0 355.8)">name</text>
<rect x="290.2" y="342.9" width="27.1" height="26.5" fill="#fff" stroke="#444" stroke-width="0.65" stroke-dasharray="1.1 1.1"/>
<text x="292.70" y="350.20" font-size="5.6" text-anchor="start" font-weight="bold" fill="#111"  transform="rotate(0.05 292.70 350.20)">type</text>
<rect x="292.90" y="353.90" width="6.20" height="5.80" fill="#05976a" />
<rect x="292.90" y="360.70" width="6.20" height="5.90" fill="#ff002d" />
<text x="302.00" y="358.10" font-size="3.8" text-anchor="start" font-weight="bold" fill="#111" stroke="#111" stroke-width="0.12" transform="rotate(0.05 302.00 358.10)">DOWN</text>
<text x="302.00" y="364.90" font-size="3.8" text-anchor="start" font-weight="bold" fill="#111" stroke="#111" stroke-width="0.12" transform="rotate(0.05 302.00 364.90)">UP</text>
<rect x="374.50" y="254.80" width="82.00" height="78.70" fill="#fff" />
<line x1="379.10" y1="254.80" x2="379.10" y2="333.50" stroke="#e4e4e4" stroke-width="0.5" />
<line x1="374.50" y1="330.50" x2="456.50" y2="330.50" stroke="#e4e4e4" stroke-width="0.5" />
<line x1="386.39" y1="254.80" x2="386.39" y2="333.50" stroke="#e4e4e4" stroke-width="0.5" />
<line x1="374.50" y1="323.21" x2="456.50" y2="323.21" stroke="#e4e4e4" stroke-width="0.5" />
<line x1="393.68" y1="254.80" x2="393.68" y2="333.50" stroke="#e4e4e4" stroke-width="0.5" />
<line x1="374.50" y1="315.92" x2="456.50" y2="315.92" stroke="#e4e4e4" stroke-width="0.5" />
<line x1="400.97" y1="254.80" x2="400.97" y2="333.50" stroke="#e4e4e4" stroke-width="0.5" />
<line x1="374.50" y1="308.63" x2="456.50" y2="308.63" stroke="#e4e4e4" stroke-width="0.5" />
<line x1="408.26" y1="254.80" x2="408.26" y2="333.50" stroke="#e4e4e4" stroke-width="0.5" />
<line x1="374.50" y1="301.34" x2="456.50" y2="301.34" stroke="#e4e4e4" stroke-width="0.5" />
<line x1="415.55" y1="254.80" x2="415.55" y2="333.50" stroke="#e4e4e4" stroke-width="0.5" />
<line x1="374.50" y1="294.05" x2="456.50" y2="294.05" stroke="#e4e4e4" stroke-width="0.5" />
<line x1="422.84" y1="254.80" x2="422.84" y2="333.50" stroke="#e4e4e4" stroke-width="0.5" />
<line x1="374.50" y1="286.76" x2="456.50" y2="286.76" stroke="#e4e4e4" stroke-width="0.5" />
<line x1="430.13" y1="254.80" x2="430.13" y2="333.50" stroke="#e4e4e4" stroke-width="0.5" />
<line x1="374.50" y1="279.47" x2="456.50" y2="279.47" stroke="#e4e4e4" stroke-width="0.5" />
<line x1="437.42" y1="254.80" x2="437.42" y2="333.50" stroke="#e4e4e4" stroke-width="0.5" />
<line x1="374.50" y1="272.18" x2="456.50" y2="272.18" stroke="#e4e4e4" stroke-width="0.5" />
<line x1="444.71" y1="254.80" x2="444.71" y2="333.50" stroke="#e4e4e4" stroke-width="0.5" />
<line x1="374.50" y1="264.89" x2="456.50" y2="264.89" stroke="#e4e4e4" stroke-width="0.5" />
<line x1="452.00" y1="254.80" x2="452.00" y2="333.50" stroke="#e4e4e4" stroke-width="0.5" />
<line x1="374.50" y1="257.60" x2="456.50" y2="257.60" stroke="#e4e4e4" stroke-width="0.5" />
<path d="M379.10,268.17 L390.40,268.17 L393.97,257.60 L452.00,257.60 L447.99,257.60 L441.43,278.45 L410.45,278.45 L406.80,294.05 L400.24,294.05 L400.24,299.15 L390.40,299.15 L390.40,304.47 L379.10,304.47 Z" fill="#b0b0f6" fill-opacity="0.5" stroke="#7b7bc0" stroke-width="0.5"/>
<line x1="379.10" y1="330.50" x2="452.00" y2="257.60" stroke="#b8b8b8" stroke-width="0.5" />
<path d="M379.10,330.50 L379.10,289.09 L390.40,289.09 L390.40,283.70 L393.90,283.70 L393.90,278.81 L401.19,278.81 L401.19,273.64 L404.69,273.64 L404.69,268.53 L438.15,268.53 L438.15,257.60 L452.00,257.60" fill="none" stroke="#505050" stroke-width="0.9"/>
<rect x="374.50" y="254.80" width="82.00" height="78.70" fill="none" stroke="#c4c4c4" stroke-width="1"/>
<line x1="372.70" y1="330.50" x2="374.50" y2="330.50" stroke="#555" stroke-width="0.5" />
<text x="370.10" y="330.50" font-size="2.8" text-anchor="middle" font-weight="normal" fill="#333" transform="rotate(0.05 370.10 330.50) rotate(-90 370.10 330.50)" dy="1.0">0.0</text>
<line x1="379.10" y1="333.50" x2="379.10" y2="335.00" stroke="#555" stroke-width="0.5" />
<text x="379.10" y="340.10" font-size="2.8" text-anchor="middle" font-weight="normal" fill="#333"  transform="rotate(0.05 379.10 340.10)">0.0</text>
<line x1="372.70" y1="315.92" x2="374.50" y2="315.92" stroke="#555" stroke-width="0.5" />
<text x="370.10" y="315.92" font-size="2.8" text-anchor="middle" font-weight="normal" fill="#333" transform="rotate(0.05 370.10 315.92) rotate(-90 370.10 315.92)" dy="1.0">0.2</text>
<line x1="393.68" y1="333.50" x2="393.68" y2="335.00" stroke="#555" stroke-width="0.5" />
<text x="393.68" y="340.10" font-size="2.8" text-anchor="middle" font-weight="normal" fill="#333"  transform="rotate(0.05 393.68 340.10)">0.2</text>
<line x1="372.70" y1="301.34" x2="374.50" y2="301.34" stroke="#555" stroke-width="0.5" />
<text x="370.10" y="301.34" font-size="2.8" text-anchor="middle" font-weight="normal" fill="#333" transform="rotate(0.05 370.10 301.34) rotate(-90 370.10 301.34)" dy="1.0">0.4</text>
<line x1="408.26" y1="333.50" x2="408.26" y2="335.00" stroke="#555" stroke-width="0.5" />
<text x="408.26" y="340.10" font-size="2.8" text-anchor="middle" font-weight="normal" fill="#333"  transform="rotate(0.05 408.26 340.10)">0.4</text>
<line x1="372.70" y1="286.76" x2="374.50" y2="286.76" stroke="#555" stroke-width="0.5" />
<text x="370.10" y="286.76" font-size="2.8" text-anchor="middle" font-weight="normal" fill="#333" transform="rotate(0.05 370.10 286.76) rotate(-90 370.10 286.76)" dy="1.0">0.6</text>
<line x1="422.84" y1="333.50" x2="422.84" y2="335.00" stroke="#555" stroke-width="0.5" />
<text x="422.84" y="340.10" font-size="2.8" text-anchor="middle" font-weight="normal" fill="#333"  transform="rotate(0.05 422.84 340.10)">0.6</text>
<line x1="372.70" y1="272.18" x2="374.50" y2="272.18" stroke="#555" stroke-width="0.5" />
<text x="370.10" y="272.18" font-size="2.8" text-anchor="middle" font-weight="normal" fill="#333" transform="rotate(0.05 370.10 272.18) rotate(-90 370.10 272.18)" dy="1.0">0.8</text>
<line x1="437.42" y1="333.50" x2="437.42" y2="335.00" stroke="#555" stroke-width="0.5" />
<text x="437.42" y="340.10" font-size="2.8" text-anchor="middle" font-weight="normal" fill="#333"  transform="rotate(0.05 437.42 340.10)">0.8</text>
<line x1="372.70" y1="257.60" x2="374.50" y2="257.60" stroke="#555" stroke-width="0.5" />
<text x="370.10" y="257.60" font-size="2.8" text-anchor="middle" font-weight="normal" fill="#333" transform="rotate(0.05 370.10 257.60) rotate(-90 370.10 257.60)" dy="1.0">1.0</text>
<line x1="452.00" y1="333.50" x2="452.00" y2="335.00" stroke="#555" stroke-width="0.5" />
<text x="452.00" y="340.10" font-size="2.8" text-anchor="middle" font-weight="normal" fill="#333"  transform="rotate(0.05 452.00 340.10)">1.0</text>
<text x="415.50" y="349.30" font-size="5.85" text-anchor="middle" font-weight="normal" fill="#222"  transform="rotate(0.05 415.50 349.30)">False positive rate</text>
<text x="364.10" y="303.00" font-size="6.1" fill="#222" text-anchor="middle" transform="rotate(-89.95 364.10 303.00)">True positive rate</text>
<text x="415.00" y="249.00" font-size="6.5" text-anchor="middle" font-weight="normal" fill="#222"  transform="rotate(0.05 415.00 249.00)">233</text>
<text x="352.60" y="252.70" font-size="10.8" text-anchor="start" font-weight="bold" fill="#333" textLength="13.0" lengthAdjust="spacingAndGlyphs" transform="rotate(0.05 352.60 252.70)">D I</text>
<text x="415.95" y="296.50" font-size="2.95" text-anchor="start" font-weight="normal" fill="#3a3aa8"  transform="rotate(0.05 415.95 296.50)">AUC: 0.824</text>
<text x="415.75" y="300.00" font-size="2.95" text-anchor="start" font-weight="normal" fill="#3a3aa8"  transform="rotate(0.05 415.75 300.00)">(0.629-0.999)</text>
<rect x="487.90" y="254.80" width="82.00" height="78.70" fill="#fff" />
<line x1="492.50" y1="254.80" x2="492.50" y2="333.50" stroke="#e4e4e4" stroke-width="0.5" />
<line x1="487.90" y1="330.50" x2="569.90" y2="330.50" stroke="#e4e4e4" stroke-width="0.5" />
<line x1="499.79" y1="254.80" x2="499.79" y2="333.50" stroke="#e4e4e4" stroke-width="0.5" />
<line x1="487.90" y1="323.21" x2="569.90" y2="323.21" stroke="#e4e4e4" stroke-width="0.5" />
<line x1="507.08" y1="254.80" x2="507.08" y2="333.50" stroke="#e4e4e4" stroke-width="0.5" />
<line x1="487.90" y1="315.92" x2="569.90" y2="315.92" stroke="#e4e4e4" stroke-width="0.5" />
<line x1="514.37" y1="254.80" x2="514.37" y2="333.50" stroke="#e4e4e4" stroke-width="0.5" />
<line x1="487.90" y1="308.63" x2="569.90" y2="308.63" stroke="#e4e4e4" stroke-width="0.5" />
<line x1="521.66" y1="254.80" x2="521.66" y2="333.50" stroke="#e4e4e4" stroke-width="0.5" />
<line x1="487.90" y1="301.34" x2="569.90" y2="301.34" stroke="#e4e4e4" stroke-width="0.5" />
<line x1="528.95" y1="254.80" x2="528.95" y2="333.50" stroke="#e4e4e4" stroke-width="0.5" />
<line x1="487.90" y1="294.05" x2="569.90" y2="294.05" stroke="#e4e4e4" stroke-width="0.5" />
<line x1="536.24" y1="254.80" x2="536.24" y2="333.50" stroke="#e4e4e4" stroke-width="0.5" />
<line x1="487.90" y1="286.76" x2="569.90" y2="286.76" stroke="#e4e4e4" stroke-width="0.5" />
<line x1="543.53" y1="254.80" x2="543.53" y2="333.50" stroke="#e4e4e4" stroke-width="0.5" />
<line x1="487.90" y1="279.47" x2="569.90" y2="279.47" stroke="#e4e4e4" stroke-width="0.5" />
<line x1="550.82" y1="254.80" x2="550.82" y2="333.50" stroke="#e4e4e4" stroke-width="0.5" />
<line x1="487.90" y1="272.18" x2="569.90" y2="272.18" stroke="#e4e4e4" stroke-width="0.5" />
<line x1="558.11" y1="254.80" x2="558.11" y2="333.50" stroke="#e4e4e4" stroke-width="0.5" />
<line x1="487.90" y1="264.89" x2="569.90" y2="264.89" stroke="#e4e4e4" stroke-width="0.5" />
<line x1="565.40" y1="254.80" x2="565.40" y2="333.50" stroke="#e4e4e4" stroke-width="0.5" />
<line x1="487.90" y1="257.60" x2="569.90" y2="257.60" stroke="#e4e4e4" stroke-width="0.5" />
<path d="M492.50,299.81 L494.69,299.81 L498.92,294.27 L504.82,294.27 L510.80,275.17 L515.03,275.17 L523.48,266.71 L526.03,257.60 L565.40,257.60 L563.14,257.60 L559.71,264.16 L556.36,271.82 L550.46,275.97 L545.35,281.07 L541.93,291.28 L536.02,303.24 L533.47,313.30 L526.69,314.97 L522.61,319.27 L520.13,321.02 L506.50,321.02 L504.02,325.18 L492.50,325.18 Z" fill="#b0b0f6" fill-opacity="0.5" stroke="#7b7bc0" stroke-width="0.5"/>
<line x1="492.50" y1="330.50" x2="565.40" y2="257.60" stroke="#b8b8b8" stroke-width="0.5" />
<path d="M492.50,330.50 L492.50,315.41 L499.79,315.41 L499.79,309.87 L510.43,309.87 L510.43,305.20 L525.23,305.20 L525.23,279.47 L532.08,279.47 L532.08,274.73 L536.02,274.73 L536.02,269.63 L538.50,269.63 L538.50,264.53 L553.74,264.53 L553.74,257.60 L565.40,257.60" fill="none" stroke="#505050" stroke-width="0.9"/>
<rect x="487.90" y="254.80" width="82.00" height="78.70" fill="none" stroke="#c4c4c4" stroke-width="1"/>
<line x1="486.10" y1="330.50" x2="487.90" y2="330.50" stroke="#555" stroke-width="0.5" />
<text x="483.50" y="330.50" font-size="2.8" text-anchor="middle" font-weight="normal" fill="#333" transform="rotate(0.05 483.50 330.50) rotate(-90 483.50 330.50)" dy="1.0">0.0</text>
<line x1="492.50" y1="333.50" x2="492.50" y2="335.00" stroke="#555" stroke-width="0.5" />
<text x="492.50" y="340.10" font-size="2.8" text-anchor="middle" font-weight="normal" fill="#333"  transform="rotate(0.05 492.50 340.10)">0.0</text>
<line x1="486.10" y1="315.92" x2="487.90" y2="315.92" stroke="#555" stroke-width="0.5" />
<text x="483.50" y="315.92" font-size="2.8" text-anchor="middle" font-weight="normal" fill="#333" transform="rotate(0.05 483.50 315.92) rotate(-90 483.50 315.92)" dy="1.0">0.2</text>
<line x1="507.08" y1="333.50" x2="507.08" y2="335.00" stroke="#555" stroke-width="0.5" />
<text x="507.08" y="340.10" font-size="2.8" text-anchor="middle" font-weight="normal" fill="#333"  transform="rotate(0.05 507.08 340.10)">0.2</text>
<line x1="486.10" y1="301.34" x2="487.90" y2="301.34" stroke="#555" stroke-width="0.5" />
<text x="483.50" y="301.34" font-size="2.8" text-anchor="middle" font-weight="normal" fill="#333" transform="rotate(0.05 483.50 301.34) rotate(-90 483.50 301.34)" dy="1.0">0.4</text>
<line x1="521.66" y1="333.50" x2="521.66" y2="335.00" stroke="#555" stroke-width="0.5" />
<text x="521.66" y="340.10" font-size="2.8" text-anchor="middle" font-weight="normal" fill="#333"  transform="rotate(0.05 521.66 340.10)">0.4</text>
<line x1="486.10" y1="286.76" x2="487.90" y2="286.76" stroke="#555" stroke-width="0.5" />
<text x="483.50" y="286.76" font-size="2.8" text-anchor="middle" font-weight="normal" fill="#333" transform="rotate(0.05 483.50 286.76) rotate(-90 483.50 286.76)" dy="1.0">0.6</text>
<line x1="536.24" y1="333.50" x2="536.24" y2="335.00" stroke="#555" stroke-width="0.5" />
<text x="536.24" y="340.10" font-size="2.8" text-anchor="middle" font-weight="normal" fill="#333"  transform="rotate(0.05 536.24 340.10)">0.6</text>
<line x1="486.10" y1="272.18" x2="487.90" y2="272.18" stroke="#555" stroke-width="0.5" />
<text x="483.50" y="272.18" font-size="2.8" text-anchor="middle" font-weight="normal" fill="#333" transform="rotate(0.05 483.50 272.18) rotate(-90 483.50 272.18)" dy="1.0">0.8</text>
<line x1="550.82" y1="333.50" x2="550.82" y2="335.00" stroke="#555" stroke-width="0.5" />
<text x="550.82" y="340.10" font-size="2.8" text-anchor="middle" font-weight="normal" fill="#333"  transform="rotate(0.05 550.82 340.10)">0.8</text>
<line x1="486.10" y1="257.60" x2="487.90" y2="257.60" stroke="#555" stroke-width="0.5" />
<text x="483.50" y="257.60" font-size="2.8" text-anchor="middle" font-weight="normal" fill="#333" transform="rotate(0.05 483.50 257.60) rotate(-90 483.50 257.60)" dy="1.0">1.0</text>
<line x1="565.40" y1="333.50" x2="565.40" y2="335.00" stroke="#555" stroke-width="0.5" />
<text x="565.40" y="340.10" font-size="2.8" text-anchor="middle" font-weight="normal" fill="#333"  transform="rotate(0.05 565.40 340.10)">1.0</text>
<text x="524.60" y="349.30" font-size="5.85" text-anchor="middle" font-weight="normal" fill="#222"  transform="rotate(0.05 524.60 349.30)">False positive rate</text>
<text x="477.70" y="303.00" font-size="6.1" fill="#222" text-anchor="middle" transform="rotate(-89.95 477.70 303.00)">True positive rate</text>
<text x="524.10" y="249.00" font-size="6.5" text-anchor="middle" font-weight="normal" fill="#222"  transform="rotate(0.05 524.10 249.00)">320</text>
<text x="465.20" y="252.70" font-size="10.8" text-anchor="start" font-weight="bold" fill="#333" textLength="14.3" lengthAdjust="spacingAndGlyphs" transform="rotate(0.05 465.20 252.70)">D II</text>
<text x="529.35" y="296.50" font-size="2.95" text-anchor="start" font-weight="normal" fill="#3a3aa8"  transform="rotate(0.05 529.35 296.50)">AUC: 0.635</text>
<text x="529.15" y="300.00" font-size="2.95" text-anchor="start" font-weight="normal" fill="#3a3aa8"  transform="rotate(0.05 529.15 300.00)">(0.440-0.830)</text>
<rect x="601.10" y="254.80" width="82.00" height="78.70" fill="#fff" />
<line x1="605.70" y1="254.80" x2="605.70" y2="333.50" stroke="#e4e4e4" stroke-width="0.5" />
<line x1="601.10" y1="330.50" x2="683.10" y2="330.50" stroke="#e4e4e4" stroke-width="0.5" />
<line x1="612.99" y1="254.80" x2="612.99" y2="333.50" stroke="#e4e4e4" stroke-width="0.5" />
<line x1="601.10" y1="323.21" x2="683.10" y2="323.21" stroke="#e4e4e4" stroke-width="0.5" />
<line x1="620.28" y1="254.80" x2="620.28" y2="333.50" stroke="#e4e4e4" stroke-width="0.5" />
<line x1="601.10" y1="315.92" x2="683.10" y2="315.92" stroke="#e4e4e4" stroke-width="0.5" />
<line x1="627.57" y1="254.80" x2="627.57" y2="333.50" stroke="#e4e4e4" stroke-width="0.5" />
<line x1="601.10" y1="308.63" x2="683.10" y2="308.63" stroke="#e4e4e4" stroke-width="0.5" />
<line x1="634.86" y1="254.80" x2="634.86" y2="333.50" stroke="#e4e4e4" stroke-width="0.5" />
<line x1="601.10" y1="301.34" x2="683.10" y2="301.34" stroke="#e4e4e4" stroke-width="0.5" />
<line x1="642.15" y1="254.80" x2="642.15" y2="333.50" stroke="#e4e4e4" stroke-width="0.5" />
<line x1="601.10" y1="294.05" x2="683.10" y2="294.05" stroke="#e4e4e4" stroke-width="0.5" />
<line x1="649.44" y1="254.80" x2="649.44" y2="333.50" stroke="#e4e4e4" stroke-width="0.5" />
<line x1="601.10" y1="286.76" x2="683.10" y2="286.76" stroke="#e4e4e4" stroke-width="0.5" />
<line x1="656.73" y1="254.80" x2="656.73" y2="333.50" stroke="#e4e4e4" stroke-width="0.5" />
<line x1="601.10" y1="279.47" x2="683.10" y2="279.47" stroke="#e4e4e4" stroke-width="0.5" />
<line x1="664.02" y1="254.80" x2="664.02" y2="333.50" stroke="#e4e4e4" stroke-width="0.5" />
<line x1="601.10" y1="272.18" x2="683.10" y2="272.18" stroke="#e4e4e4" stroke-width="0.5" />
<line x1="671.31" y1="254.80" x2="671.31" y2="333.50" stroke="#e4e4e4" stroke-width="0.5" />
<line x1="601.10" y1="264.89" x2="683.10" y2="264.89" stroke="#e4e4e4" stroke-width="0.5" />
<line x1="678.60" y1="254.80" x2="678.60" y2="333.50" stroke="#e4e4e4" stroke-width="0.5" />
<line x1="601.10" y1="257.60" x2="683.10" y2="257.60" stroke="#e4e4e4" stroke-width="0.5" />
<path d="M605.70,262.78 L654.11,262.78 L657.46,257.60 L678.60,257.60 L678.60,257.60 L675.32,284.50 L660.89,284.50 L656.73,289.31 L623.49,289.31 L617.07,299.37 L605.70,299.37 Z" fill="#b0b0f6" fill-opacity="0.5" stroke="#7b7bc0" stroke-width="0.5"/>
<line x1="605.70" y1="330.50" x2="678.60" y2="257.60" stroke="#b8b8b8" stroke-width="0.5" />
<path d="M605.70,330.50 L605.70,278.60 L620.72,278.60 L620.72,273.49 L660.59,273.49 L660.59,268.39 L678.60,268.39 L678.60,257.60" fill="none" stroke="#505050" stroke-width="0.9"/>
<rect x="601.10" y="254.80" width="82.00" height="78.70" fill="none" stroke="#c4c4c4" stroke-width="1"/>
<line x1="599.30" y1="330.50" x2="601.10" y2="330.50" stroke="#555" stroke-width="0.5" />
<text x="596.70" y="330.50" font-size="2.8" text-anchor="middle" font-weight="normal" fill="#333" transform="rotate(0.05 596.70 330.50) rotate(-90 596.70 330.50)" dy="1.0">0.0</text>
<line x1="605.70" y1="333.50" x2="605.70" y2="335.00" stroke="#555" stroke-width="0.5" />
<text x="605.70" y="340.10" font-size="2.8" text-anchor="middle" font-weight="normal" fill="#333"  transform="rotate(0.05 605.70 340.10)">0.0</text>
<line x1="599.30" y1="315.92" x2="601.10" y2="315.92" stroke="#555" stroke-width="0.5" />
<text x="596.70" y="315.92" font-size="2.8" text-anchor="middle" font-weight="normal" fill="#333" transform="rotate(0.05 596.70 315.92) rotate(-90 596.70 315.92)" dy="1.0">0.2</text>
<line x1="620.28" y1="333.50" x2="620.28" y2="335.00" stroke="#555" stroke-width="0.5" />
<text x="620.28" y="340.10" font-size="2.8" text-anchor="middle" font-weight="normal" fill="#333"  transform="rotate(0.05 620.28 340.10)">0.2</text>
<line x1="599.30" y1="301.34" x2="601.10" y2="301.34" stroke="#555" stroke-width="0.5" />
<text x="596.70" y="301.34" font-size="2.8" text-anchor="middle" font-weight="normal" fill="#333" transform="rotate(0.05 596.70 301.34) rotate(-90 596.70 301.34)" dy="1.0">0.4</text>
<line x1="634.86" y1="333.50" x2="634.86" y2="335.00" stroke="#555" stroke-width="0.5" />
<text x="634.86" y="340.10" font-size="2.8" text-anchor="middle" font-weight="normal" fill="#333"  transform="rotate(0.05 634.86 340.10)">0.4</text>
<line x1="599.30" y1="286.76" x2="601.10" y2="286.76" stroke="#555" stroke-width="0.5" />
<text x="596.70" y="286.76" font-size="2.8" text-anchor="middle" font-weight="normal" fill="#333" transform="rotate(0.05 596.70 286.76) rotate(-90 596.70 286.76)" dy="1.0">0.6</text>
<line x1="649.44" y1="333.50" x2="649.44" y2="335.00" stroke="#555" stroke-width="0.5" />
<text x="649.44" y="340.10" font-size="2.8" text-anchor="middle" font-weight="normal" fill="#333"  transform="rotate(0.05 649.44 340.10)">0.6</text>
<line x1="599.30" y1="272.18" x2="601.10" y2="272.18" stroke="#555" stroke-width="0.5" />
<text x="596.70" y="272.18" font-size="2.8" text-anchor="middle" font-weight="normal" fill="#333" transform="rotate(0.05 596.70 272.18) rotate(-90 596.70 272.18)" dy="1.0">0.8</text>
<line x1="664.02" y1="333.50" x2="664.02" y2="335.00" stroke="#555" stroke-width="0.5" />
<text x="664.02" y="340.10" font-size="2.8" text-anchor="middle" font-weight="normal" fill="#333"  transform="rotate(0.05 664.02 340.10)">0.8</text>
<line x1="599.30" y1="257.60" x2="601.10" y2="257.60" stroke="#555" stroke-width="0.5" />
<text x="596.70" y="257.60" font-size="2.8" text-anchor="middle" font-weight="normal" fill="#333" transform="rotate(0.05 596.70 257.60) rotate(-90 596.70 257.60)" dy="1.0">1.0</text>
<line x1="678.60" y1="333.50" x2="678.60" y2="335.00" stroke="#555" stroke-width="0.5" />
<text x="678.60" y="340.10" font-size="2.8" text-anchor="middle" font-weight="normal" fill="#333"  transform="rotate(0.05 678.60 340.10)">1.0</text>
<text x="645.00" y="349.30" font-size="5.85" text-anchor="middle" font-weight="normal" fill="#222"  transform="rotate(0.05 645.00 349.30)">False positive rate</text>
<text x="590.40" y="303.00" font-size="6.1" fill="#222" text-anchor="middle" transform="rotate(-89.95 590.40 303.00)">True positive rate</text>
<text x="644.50" y="249.00" font-size="6.5" text-anchor="middle" font-weight="normal" fill="#222"  transform="rotate(0.05 644.50 249.00)">68</text>
<text x="576.40" y="252.70" font-size="10.8" text-anchor="start" font-weight="bold" fill="#333" textLength="15.2" lengthAdjust="spacingAndGlyphs" transform="rotate(0.05 576.40 252.70)">DIII</text>
<text x="642.55" y="296.50" font-size="2.95" text-anchor="start" font-weight="normal" fill="#3a3aa8"  transform="rotate(0.05 642.55 296.50)">AUC: 0.786</text>
<text x="642.35" y="300.00" font-size="2.95" text-anchor="start" font-weight="normal" fill="#3a3aa8"  transform="rotate(0.05 642.35 300.00)">(0.596-0.977)</text>
<rect x="374.50" y="374.50" width="82.00" height="78.70" fill="#fff" />
<line x1="379.10" y1="374.50" x2="379.10" y2="453.20" stroke="#e4e4e4" stroke-width="0.5" />
<line x1="374.50" y1="450.20" x2="456.50" y2="450.20" stroke="#e4e4e4" stroke-width="0.5" />
<line x1="386.39" y1="374.50" x2="386.39" y2="453.20" stroke="#e4e4e4" stroke-width="0.5" />
<line x1="374.50" y1="442.91" x2="456.50" y2="442.91" stroke="#e4e4e4" stroke-width="0.5" />
<line x1="393.68" y1="374.50" x2="393.68" y2="453.20" stroke="#e4e4e4" stroke-width="0.5" />
<line x1="374.50" y1="435.62" x2="456.50" y2="435.62" stroke="#e4e4e4" stroke-width="0.5" />
<line x1="400.97" y1="374.50" x2="400.97" y2="453.20" stroke="#e4e4e4" stroke-width="0.5" />
<line x1="374.50" y1="428.33" x2="456.50" y2="428.33" stroke="#e4e4e4" stroke-width="0.5" />
<line x1="408.26" y1="374.50" x2="408.26" y2="453.20" stroke="#e4e4e4" stroke-width="0.5" />
<line x1="374.50" y1="421.04" x2="456.50" y2="421.04" stroke="#e4e4e4" stroke-width="0.5" />
<line x1="415.55" y1="374.50" x2="415.55" y2="453.20" stroke="#e4e4e4" stroke-width="0.5" />
<line x1="374.50" y1="413.75" x2="456.50" y2="413.75" stroke="#e4e4e4" stroke-width="0.5" />
<line x1="422.84" y1="374.50" x2="422.84" y2="453.20" stroke="#e4e4e4" stroke-width="0.5" />
<line x1="374.50" y1="406.46" x2="456.50" y2="406.46" stroke="#e4e4e4" stroke-width="0.5" />
<line x1="430.13" y1="374.50" x2="430.13" y2="453.20" stroke="#e4e4e4" stroke-width="0.5" />
<line x1="374.50" y1="399.17" x2="456.50" y2="399.17" stroke="#e4e4e4" stroke-width="0.5" />
<line x1="437.42" y1="374.50" x2="437.42" y2="453.20" stroke="#e4e4e4" stroke-width="0.5" />
<line x1="374.50" y1="391.88" x2="456.50" y2="391.88" stroke="#e4e4e4" stroke-width="0.5" />
<line x1="444.71" y1="374.50" x2="444.71" y2="453.20" stroke="#e4e4e4" stroke-width="0.5" />
<line x1="374.50" y1="384.59" x2="456.50" y2="384.59" stroke="#e4e4e4" stroke-width="0.5" />
<line x1="452.00" y1="374.50" x2="452.00" y2="453.20" stroke="#e4e4e4" stroke-width="0.5" />
<line x1="374.50" y1="377.30" x2="456.50" y2="377.30" stroke="#e4e4e4" stroke-width="0.5" />
<line x1="379.10" y1="450.20" x2="452.00" y2="377.30" stroke="#b8b8b8" stroke-width="0.5" />
<path d="M379.10,450.20 L379.10,377.30 L452.00,377.30" fill="none" stroke="#505050" stroke-width="0.9"/>
<rect x="374.50" y="374.50" width="82.00" height="78.70" fill="none" stroke="#c4c4c4" stroke-width="1"/>
<line x1="372.70" y1="450.20" x2="374.50" y2="450.20" stroke="#555" stroke-width="0.5" />
<text x="370.10" y="450.20" font-size="2.8" text-anchor="middle" font-weight="normal" fill="#333" transform="rotate(0.05 370.10 450.20) rotate(-90 370.10 450.20)" dy="1.0">0.0</text>
<line x1="379.10" y1="453.20" x2="379.10" y2="454.70" stroke="#555" stroke-width="0.5" />
<text x="379.10" y="459.60" font-size="2.8" text-anchor="middle" font-weight="normal" fill="#333"  transform="rotate(0.05 379.10 459.60)">0.0</text>
<line x1="372.70" y1="435.62" x2="374.50" y2="435.62" stroke="#555" stroke-width="0.5" />
<text x="370.10" y="435.62" font-size="2.8" text-anchor="middle" font-weight="normal" fill="#333" transform="rotate(0.05 370.10 435.62) rotate(-90 370.10 435.62)" dy="1.0">0.2</text>
<line x1="393.68" y1="453.20" x2="393.68" y2="454.70" stroke="#555" stroke-width="0.5" />
<text x="393.68" y="459.60" font-size="2.8" text-anchor="middle" font-weight="normal" fill="#333"  transform="rotate(0.05 393.68 459.60)">0.2</text>
<line x1="372.70" y1="421.04" x2="374.50" y2="421.04" stroke="#555" stroke-width="0.5" />
<text x="370.10" y="421.04" font-size="2.8" text-anchor="middle" font-weight="normal" fill="#333" transform="rotate(0.05 370.10 421.04) rotate(-90 370.10 421.04)" dy="1.0">0.4</text>
<line x1="408.26" y1="453.20" x2="408.26" y2="454.70" stroke="#555" stroke-width="0.5" />
<text x="408.26" y="459.60" font-size="2.8" text-anchor="middle" font-weight="normal" fill="#333"  transform="rotate(0.05 408.26 459.60)">0.4</text>
<line x1="372.70" y1="406.46" x2="374.50" y2="406.46" stroke="#555" stroke-width="0.5" />
<text x="370.10" y="406.46" font-size="2.8" text-anchor="middle" font-weight="normal" fill="#333" transform="rotate(0.05 370.10 406.46) rotate(-90 370.10 406.46)" dy="1.0">0.6</text>
<line x1="422.84" y1="453.20" x2="422.84" y2="454.70" stroke="#555" stroke-width="0.5" />
<text x="422.84" y="459.60" font-size="2.8" text-anchor="middle" font-weight="normal" fill="#333"  transform="rotate(0.05 422.84 459.60)">0.6</text>
<line x1="372.70" y1="391.88" x2="374.50" y2="391.88" stroke="#555" stroke-width="0.5" />
<text x="370.10" y="391.88" font-size="2.8" text-anchor="middle" font-weight="normal" fill="#333" transform="rotate(0.05 370.10 391.88) rotate(-90 370.10 391.88)" dy="1.0">0.8</text>
<line x1="437.42" y1="453.20" x2="437.42" y2="454.70" stroke="#555" stroke-width="0.5" />
<text x="437.42" y="459.60" font-size="2.8" text-anchor="middle" font-weight="normal" fill="#333"  transform="rotate(0.05 437.42 459.60)">0.8</text>
<line x1="372.70" y1="377.30" x2="374.50" y2="377.30" stroke="#555" stroke-width="0.5" />
<text x="370.10" y="377.30" font-size="2.8" text-anchor="middle" font-weight="normal" fill="#333" transform="rotate(0.05 370.10 377.30) rotate(-90 370.10 377.30)" dy="1.0">1.0</text>
<line x1="452.00" y1="453.20" x2="452.00" y2="454.70" stroke="#555" stroke-width="0.5" />
<text x="452.00" y="459.60" font-size="2.8" text-anchor="middle" font-weight="normal" fill="#333"  transform="rotate(0.05 452.00 459.60)">1.0</text>
<text x="415.50" y="467.50" font-size="5.85" text-anchor="middle" font-weight="normal" fill="#222"  transform="rotate(0.05 415.50 467.50)">False positive rate</text>
<text x="364.10" y="418.80" font-size="6.1" fill="#222" text-anchor="middle" transform="rotate(-89.95 364.10 418.80)">True positive rate</text>
<text x="415.00" y="369.60" font-size="6.5" text-anchor="middle" font-weight="normal" fill="#222"  transform="rotate(0.05 415.00 369.60)">495</text>
<text x="350.70" y="370.70" font-size="10.8" text-anchor="start" font-weight="bold" fill="#333" textLength="16.0" lengthAdjust="spacingAndGlyphs" transform="rotate(0.05 350.70 370.70)">DIV</text>
<text x="415.95" y="416.20" font-size="2.95" text-anchor="start" font-weight="normal" fill="#3a3aa8"  transform="rotate(0.05 415.95 416.20)">AUC: 1</text>
<text x="415.75" y="419.70" font-size="2.95" text-anchor="start" font-weight="normal" fill="#3a3aa8"  transform="rotate(0.05 415.75 419.70)">(1-1)</text>
<rect x="487.90" y="374.50" width="82.00" height="78.70" fill="#fff" />
<line x1="492.50" y1="374.50" x2="492.50" y2="453.20" stroke="#e4e4e4" stroke-width="0.5" />
<line x1="487.90" y1="450.20" x2="569.90" y2="450.20" stroke="#e4e4e4" stroke-width="0.5" />
<line x1="499.79" y1="374.50" x2="499.79" y2="453.20" stroke="#e4e4e4" stroke-width="0.5" />
<line x1="487.90" y1="442.91" x2="569.90" y2="442.91" stroke="#e4e4e4" stroke-width="0.5" />
<line x1="507.08" y1="374.50" x2="507.08" y2="453.20" stroke="#e4e4e4" stroke-width="0.5" />
<line x1="487.90" y1="435.62" x2="569.90" y2="435.62" stroke="#e4e4e4" stroke-width="0.5" />
<line x1="514.37" y1="374.50" x2="514.37" y2="453.20" stroke="#e4e4e4" stroke-width="0.5" />
<line x1="487.90" y1="428.33" x2="569.90" y2="428.33" stroke="#e4e4e4" stroke-width="0.5" />
<line x1="521.66" y1="374.50" x2="521.66" y2="453.20" stroke="#e4e4e4" stroke-width="0.5" />
<line x1="487.90" y1="421.04" x2="569.90" y2="421.04" stroke="#e4e4e4" stroke-width="0.5" />
<line x1="528.95" y1="374.50" x2="528.95" y2="453.20" stroke="#e4e4e4" stroke-width="0.5" />
<line x1="487.90" y1="413.75" x2="569.90" y2="413.75" stroke="#e4e4e4" stroke-width="0.5" />
<line x1="536.24" y1="374.50" x2="536.24" y2="453.20" stroke="#e4e4e4" stroke-width="0.5" />
<line x1="487.90" y1="406.46" x2="569.90" y2="406.46" stroke="#e4e4e4" stroke-width="0.5" />
<line x1="543.53" y1="374.50" x2="543.53" y2="453.20" stroke="#e4e4e4" stroke-width="0.5" />
<line x1="487.90" y1="399.17" x2="569.90" y2="399.17" stroke="#e4e4e4" stroke-width="0.5" />
<line x1="550.82" y1="374.50" x2="550.82" y2="453.20" stroke="#e4e4e4" stroke-width="0.5" />
<line x1="487.90" y1="391.88" x2="569.90" y2="391.88" stroke="#e4e4e4" stroke-width="0.5" />
<line x1="558.11" y1="374.50" x2="558.11" y2="453.20" stroke="#e4e4e4" stroke-width="0.5" />
<line x1="487.90" y1="384.59" x2="569.90" y2="384.59" stroke="#e4e4e4" stroke-width="0.5" />
<line x1="565.40" y1="374.50" x2="565.40" y2="453.20" stroke="#e4e4e4" stroke-width="0.5" />
<line x1="487.90" y1="377.30" x2="569.90" y2="377.30" stroke="#e4e4e4" stroke-width="0.5" />
<path d="M492.50,377.30 L565.40,377.30 L510.58,377.30 L506.35,388.96 L504.60,399.90 L503.44,413.97 L499.50,413.97 L496.14,429.20 L492.50,429.20 Z" fill="#b0b0f6" fill-opacity="0.5" stroke="#7b7bc0" stroke-width="0.5"/>
<line x1="492.50" y1="450.20" x2="565.40" y2="377.30" stroke="#b8b8b8" stroke-width="0.5" />
<path d="M492.50,450.20 L492.50,413.60 L496.58,413.60 L496.58,388.09 L499.50,388.09 L499.50,377.30 L565.40,377.30" fill="none" stroke="#505050" stroke-width="0.9"/>
<rect x="487.90" y="374.50" width="82.00" height="78.70" fill="none" stroke="#c4c4c4" stroke-width="1"/>
<line x1="486.10" y1="450.20" x2="487.90" y2="450.20" stroke="#555" stroke-width="0.5" />
<text x="483.50" y="450.20" font-size="2.8" text-anchor="middle" font-weight="normal" fill="#333" transform="rotate(0.05 483.50 450.20) rotate(-90 483.50 450.20)" dy="1.0">0.0</text>
<line x1="492.50" y1="453.20" x2="492.50" y2="454.70" stroke="#555" stroke-width="0.5" />
<text x="492.50" y="459.60" font-size="2.8" text-anchor="middle" font-weight="normal" fill="#333"  transform="rotate(0.05 492.50 459.60)">0.0</text>
<line x1="486.10" y1="435.62" x2="487.90" y2="435.62" stroke="#555" stroke-width="0.5" />
<text x="483.50" y="435.62" font-size="2.8" text-anchor="middle" font-weight="normal" fill="#333" transform="rotate(0.05 483.50 435.62) rotate(-90 483.50 435.62)" dy="1.0">0.2</text>
<line x1="507.08" y1="453.20" x2="507.08" y2="454.70" stroke="#555" stroke-width="0.5" />
<text x="507.08" y="459.60" font-size="2.8" text-anchor="middle" font-weight="normal" fill="#333"  transform="rotate(0.05 507.08 459.60)">0.2</text>
<line x1="486.10" y1="421.04" x2="487.90" y2="421.04" stroke="#555" stroke-width="0.5" />
<text x="483.50" y="421.04" font-size="2.8" text-anchor="middle" font-weight="normal" fill="#333" transform="rotate(0.05 483.50 421.04) rotate(-90 483.50 421.04)" dy="1.0">0.4</text>
<line x1="521.66" y1="453.20" x2="521.66" y2="454.70" stroke="#555" stroke-width="0.5" />
<text x="521.66" y="459.60" font-size="2.8" text-anchor="middle" font-weight="normal" fill="#333"  transform="rotate(0.05 521.66 459.60)">0.4</text>
<line x1="486.10" y1="406.46" x2="487.90" y2="406.46" stroke="#555" stroke-width="0.5" />
<text x="483.50" y="406.46" font-size="2.8" text-anchor="middle" font-weight="normal" fill="#333" transform="rotate(0.05 483.50 406.46) rotate(-90 483.50 406.46)" dy="1.0">0.6</text>
<line x1="536.24" y1="453.20" x2="536.24" y2="454.70" stroke="#555" stroke-width="0.5" />
<text x="536.24" y="459.60" font-size="2.8" text-anchor="middle" font-weight="normal" fill="#333"  transform="rotate(0.05 536.24 459.60)">0.6</text>
<line x1="486.10" y1="391.88" x2="487.90" y2="391.88" stroke="#555" stroke-width="0.5" />
<text x="483.50" y="391.88" font-size="2.8" text-anchor="middle" font-weight="normal" fill="#333" transform="rotate(0.05 483.50 391.88) rotate(-90 483.50 391.88)" dy="1.0">0.8</text>
<line x1="550.82" y1="453.20" x2="550.82" y2="454.70" stroke="#555" stroke-width="0.5" />
<text x="550.82" y="459.60" font-size="2.8" text-anchor="middle" font-weight="normal" fill="#333"  transform="rotate(0.05 550.82 459.60)">0.8</text>
<line x1="486.10" y1="377.30" x2="487.90" y2="377.30" stroke="#555" stroke-width="0.5" />
<text x="483.50" y="377.30" font-size="2.8" text-anchor="middle" font-weight="normal" fill="#333" transform="rotate(0.05 483.50 377.30) rotate(-90 483.50 377.30)" dy="1.0">1.0</text>
<line x1="565.40" y1="453.20" x2="565.40" y2="454.70" stroke="#555" stroke-width="0.5" />
<text x="565.40" y="459.60" font-size="2.8" text-anchor="middle" font-weight="normal" fill="#333"  transform="rotate(0.05 565.40 459.60)">1.0</text>
<text x="524.60" y="467.50" font-size="5.85" text-anchor="middle" font-weight="normal" fill="#222"  transform="rotate(0.05 524.60 467.50)">False positive rate</text>
<text x="477.70" y="418.80" font-size="6.1" fill="#222" text-anchor="middle" transform="rotate(-89.95 477.70 418.80)">True positive rate</text>
<text x="524.10" y="369.60" font-size="6.5" text-anchor="middle" font-weight="normal" fill="#222"  transform="rotate(0.05 524.10 369.60)">31</text>
<text x="463.70" y="370.70" font-size="10.8" text-anchor="start" font-weight="bold" fill="#333" textLength="15.1" lengthAdjust="spacingAndGlyphs" transform="rotate(0.05 463.70 370.70)">D V</text>
<text x="529.35" y="416.20" font-size="2.95" text-anchor="start" font-weight="normal" fill="#3a3aa8"  transform="rotate(0.05 529.35 416.20)">AUC: 0.935</text>
<text x="529.15" y="419.70" font-size="2.95" text-anchor="start" font-weight="normal" fill="#3a3aa8"  transform="rotate(0.05 529.15 419.70)">(0.864-1)</text>
<rect x="601.10" y="374.50" width="82.00" height="78.70" fill="#fff" />
<line x1="605.70" y1="374.50" x2="605.70" y2="453.20" stroke="#e4e4e4" stroke-width="0.5" />
<line x1="601.10" y1="450.20" x2="683.10" y2="450.20" stroke="#e4e4e4" stroke-width="0.5" />
<line x1="612.99" y1="374.50" x2="612.99" y2="453.20" stroke="#e4e4e4" stroke-width="0.5" />
<line x1="601.10" y1="442.91" x2="683.10" y2="442.91" stroke="#e4e4e4" stroke-width="0.5" />
<line x1="620.28" y1="374.50" x2="620.28" y2="453.20" stroke="#e4e4e4" stroke-width="0.5" />
<line x1="601.10" y1="435.62" x2="683.10" y2="435.62" stroke="#e4e4e4" stroke-width="0.5" />
<line x1="627.57" y1="374.50" x2="627.57" y2="453.20" stroke="#e4e4e4" stroke-width="0.5" />
<line x1="601.10" y1="428.33" x2="683.10" y2="428.33" stroke="#e4e4e4" stroke-width="0.5" />
<line x1="634.86" y1="374.50" x2="634.86" y2="453.20" stroke="#e4e4e4" stroke-width="0.5" />
<line x1="601.10" y1="421.04" x2="683.10" y2="421.04" stroke="#e4e4e4" stroke-width="0.5" />
<line x1="642.15" y1="374.50" x2="642.15" y2="453.20" stroke="#e4e4e4" stroke-width="0.5" />
<line x1="601.10" y1="413.75" x2="683.10" y2="413.75" stroke="#e4e4e4" stroke-width="0.5" />
<line x1="649.44" y1="374.50" x2="649.44" y2="453.20" stroke="#e4e4e4" stroke-width="0.5" />
<line x1="601.10" y1="406.46" x2="683.10" y2="406.46" stroke="#e4e4e4" stroke-width="0.5" />
<line x1="656.73" y1="374.50" x2="656.73" y2="453.20" stroke="#e4e4e4" stroke-width="0.5" />
<line x1="601.10" y1="399.17" x2="683.10" y2="399.17" stroke="#e4e4e4" stroke-width="0.5" />
<line x1="664.02" y1="374.50" x2="664.02" y2="453.20" stroke="#e4e4e4" stroke-width="0.5" />
<line x1="601.10" y1="391.88" x2="683.10" y2="391.88" stroke="#e4e4e4" stroke-width="0.5" />
<line x1="671.31" y1="374.50" x2="671.31" y2="453.20" stroke="#e4e4e4" stroke-width="0.5" />
<line x1="601.10" y1="384.59" x2="683.10" y2="384.59" stroke="#e4e4e4" stroke-width="0.5" />
<line x1="678.60" y1="374.50" x2="678.60" y2="453.20" stroke="#e4e4e4" stroke-width="0.5" />
<line x1="601.10" y1="377.30" x2="683.10" y2="377.30" stroke="#e4e4e4" stroke-width="0.5" />
<path d="M605.70,377.30 L678.60,377.30 L638.21,377.30 L634.42,388.53 L631.22,388.53 L627.42,398.66 L623.49,398.66 L620.28,403.76 L616.49,414.62 L612.70,414.62 L609.49,424.17 L605.70,424.17 Z" fill="#b0b0f6" fill-opacity="0.5" stroke="#7b7bc0" stroke-width="0.5"/>
<line x1="605.70" y1="450.20" x2="678.60" y2="377.30" stroke="#b8b8b8" stroke-width="0.5" />
<path d="M605.70,450.20 L605.70,403.18 L609.49,403.18 L609.49,398.30 L612.70,398.30 L612.70,387.87 L620.28,387.87 L620.28,377.30 L678.60,377.30" fill="none" stroke="#505050" stroke-width="0.9"/>
<rect x="601.10" y="374.50" width="82.00" height="78.70" fill="none" stroke="#c4c4c4" stroke-width="1"/>
<line x1="599.30" y1="450.20" x2="601.10" y2="450.20" stroke="#555" stroke-width="0.5" />
<text x="596.70" y="450.20" font-size="2.8" text-anchor="middle" font-weight="normal" fill="#333" transform="rotate(0.05 596.70 450.20) rotate(-90 596.70 450.20)" dy="1.0">0.0</text>
<line x1="605.70" y1="453.20" x2="605.70" y2="454.70" stroke="#555" stroke-width="0.5" />
<text x="605.70" y="459.60" font-size="2.8" text-anchor="middle" font-weight="normal" fill="#333"  transform="rotate(0.05 605.70 459.60)">0.0</text>
<line x1="599.30" y1="435.62" x2="601.10" y2="435.62" stroke="#555" stroke-width="0.5" />
<text x="596.70" y="435.62" font-size="2.8" text-anchor="middle" font-weight="normal" fill="#333" transform="rotate(0.05 596.70 435.62) rotate(-90 596.70 435.62)" dy="1.0">0.2</text>
<line x1="620.28" y1="453.20" x2="620.28" y2="454.70" stroke="#555" stroke-width="0.5" />
<text x="620.28" y="459.60" font-size="2.8" text-anchor="middle" font-weight="normal" fill="#333"  transform="rotate(0.05 620.28 459.60)">0.2</text>
<line x1="599.30" y1="421.04" x2="601.10" y2="421.04" stroke="#555" stroke-width="0.5" />
<text x="596.70" y="421.04" font-size="2.8" text-anchor="middle" font-weight="normal" fill="#333" transform="rotate(0.05 596.70 421.04) rotate(-90 596.70 421.04)" dy="1.0">0.4</text>
<line x1="634.86" y1="453.20" x2="634.86" y2="454.70" stroke="#555" stroke-width="0.5" />
<text x="634.86" y="459.60" font-size="2.8" text-anchor="middle" font-weight="normal" fill="#333"  transform="rotate(0.05 634.86 459.60)">0.4</text>
<line x1="599.30" y1="406.46" x2="601.10" y2="406.46" stroke="#555" stroke-width="0.5" />
<text x="596.70" y="406.46" font-size="2.8" text-anchor="middle" font-weight="normal" fill="#333" transform="rotate(0.05 596.70 406.46) rotate(-90 596.70 406.46)" dy="1.0">0.6</text>
<line x1="649.44" y1="453.20" x2="649.44" y2="454.70" stroke="#555" stroke-width="0.5" />
<text x="649.44" y="459.60" font-size="2.8" text-anchor="middle" font-weight="normal" fill="#333"  transform="rotate(0.05 649.44 459.60)">0.6</text>
<line x1="599.30" y1="391.88" x2="601.10" y2="391.88" stroke="#555" stroke-width="0.5" />
<text x="596.70" y="391.88" font-size="2.8" text-anchor="middle" font-weight="normal" fill="#333" transform="rotate(0.05 596.70 391.88) rotate(-90 596.70 391.88)" dy="1.0">0.8</text>
<line x1="664.02" y1="453.20" x2="664.02" y2="454.70" stroke="#555" stroke-width="0.5" />
<text x="664.02" y="459.60" font-size="2.8" text-anchor="middle" font-weight="normal" fill="#333"  transform="rotate(0.05 664.02 459.60)">0.8</text>
<line x1="599.30" y1="377.30" x2="601.10" y2="377.30" stroke="#555" stroke-width="0.5" />
<text x="596.70" y="377.30" font-size="2.8" text-anchor="middle" font-weight="normal" fill="#333" transform="rotate(0.05 596.70 377.30) rotate(-90 596.70 377.30)" dy="1.0">1.0</text>
<line x1="678.60" y1="453.20" x2="678.60" y2="454.70" stroke="#555" stroke-width="0.5" />
<text x="678.60" y="459.60" font-size="2.8" text-anchor="middle" font-weight="normal" fill="#333"  transform="rotate(0.05 678.60 459.60)">1.0</text>
<text x="645.00" y="467.50" font-size="5.85" text-anchor="middle" font-weight="normal" fill="#222"  transform="rotate(0.05 645.00 467.50)">False positive rate</text>
<text x="590.40" y="418.80" font-size="6.1" fill="#222" text-anchor="middle" transform="rotate(-89.95 590.40 418.80)">True positive rate</text>
<text x="644.50" y="369.60" font-size="6.5" text-anchor="middle" font-weight="normal" fill="#222"  transform="rotate(0.05 644.50 369.60)">173</text>
<text x="576.30" y="370.70" font-size="10.8" text-anchor="start" font-weight="bold" fill="#333" textLength="15.6" lengthAdjust="spacingAndGlyphs" transform="rotate(0.05 576.30 370.70)">DVI</text>
<text x="642.55" y="416.20" font-size="2.95" text-anchor="start" font-weight="normal" fill="#3a3aa8"  transform="rotate(0.05 642.55 416.20)">AUC: 0.957</text>
<text x="642.35" y="419.70" font-size="2.95" text-anchor="start" font-weight="normal" fill="#3a3aa8"  transform="rotate(0.05 642.35 419.70)">(0.879-1)</text>
</svg></body></html>
